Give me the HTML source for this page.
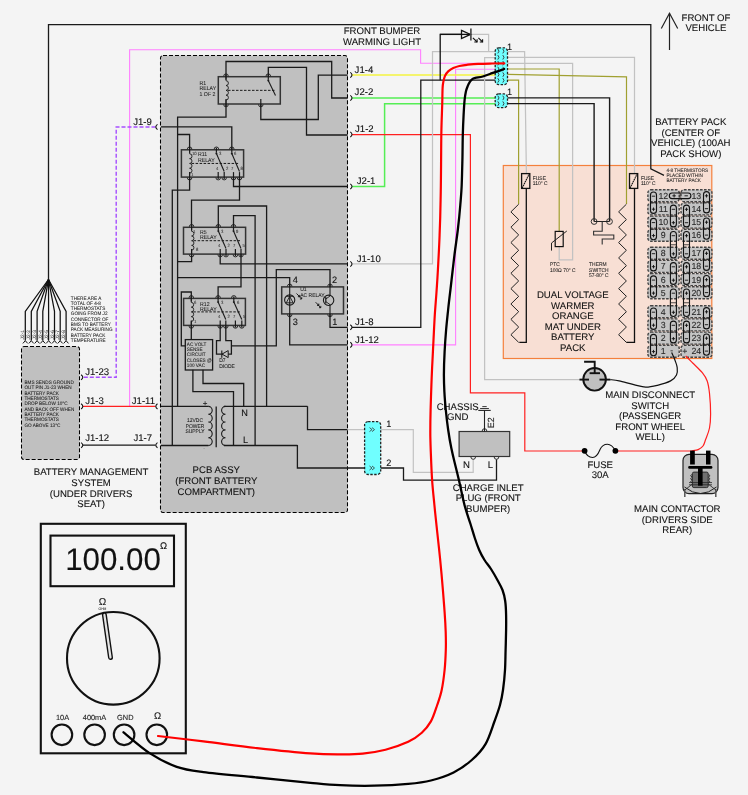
<!DOCTYPE html><html><head><meta charset="utf-8"><style>html,body{margin:0;padding:0;background:#f4f4f4;}svg{display:block;will-change:transform;}text{font-family:'Liberation Sans',sans-serif;text-rendering:geometricPrecision;}</style></head><body>
<svg width="748" height="795" viewBox="0 0 748 795">
<rect x="0" y="0" width="748" height="795" fill="#f4f4f4"/>
<rect x="503.3" y="165.5" width="208.5" height="193" fill="#f8dfd4" stroke="#f4803c" stroke-width="1.2"/>
<rect x="160.5" y="55.5" width="187" height="457" rx="2.5" fill="#c0c0c0" stroke="#000" stroke-width="1.05" stroke-dasharray="4,2"/>
<rect x="21.5" y="346.5" width="58" height="113" rx="2.5" fill="#c0c0c0" stroke="#000" stroke-width="1.05" stroke-dasharray="4,2"/>
<polyline points="48.5,279.5 48.5,24.6 650.8,24.6 650.8,168.8 664,175.3" fill="none" stroke="#1a1a1a" stroke-width="1.3" />
<polyline points="129.6,406.4 129.6,49.8 420.6,49.8 420.6,63.3 497,63.3" fill="none" stroke="#ff80ff" stroke-width="1.1" />
<polyline points="497,69.3 455.6,69.3 455.6,344.9 352,344.9" fill="none" stroke="#ff80ff" stroke-width="1.1" />
<polyline points="155.5,127 116.2,127 116.2,377.3 83,377.3" fill="none" stroke="#a64dff" stroke-width="1.4" stroke-dasharray="4,2"/>
<polyline points="352,75 497,75" fill="none" stroke="#f4f440" stroke-width="1.6" />
<polyline points="352,98 497,98" fill="none" stroke="#55ee55" stroke-width="1.5" />
<polyline points="352,186.5 384.6,186.5 384.6,103.7 497,103.7" fill="none" stroke="#55ee55" stroke-width="1.5" />
<polyline points="352,134.6 470.4,134.6 470.4,392.8 524.8,392.8 524.8,451 584,451" fill="none" stroke="#ff2020" stroke-width="1.2" />
<polyline points="616,451 692,451" fill="none" stroke="#ff2020" stroke-width="1.2" />
<polyline points="352,263.9 432.5,263.9 432.5,51.5 497,51.5" fill="none" stroke="#c2c2c2" stroke-width="1.25" />
<polyline points="470.2,34.4 488.6,34.4 488.6,51.5" fill="none" stroke="#c2c2c2" stroke-width="1.25" />
<polyline points="461.7,34.4 440.2,34.4 440.2,80.2" fill="none" stroke="#111" stroke-width="1.3" />
<polyline points="352,327.4 420.8,327.4 420.8,80.2 497,80.2" fill="none" stroke="#1a1a1a" stroke-width="1.3" />
<polyline points="497,57.5 484.6,57.5 484.6,379.6 580,379.6" fill="none" stroke="#c2c2c2" stroke-width="1.25" />
<polyline points="507,51.7 524.6,51.7 526.4,173.5" fill="none" stroke="#c2c2c2" stroke-width="1.25" />
<polyline points="507,57.4 634.5,57.4 634.5,173.5" fill="none" stroke="#c2c2c2" stroke-width="1.25" />
<polyline points="507,63.3 572.6,63.3 572.6,259.9 559.2,259.9 559.2,246.6" fill="none" stroke="#c2c2c2" stroke-width="1.25" />
<polyline points="507,69 559.2,69 559.2,231" fill="none" stroke="#a0a030" stroke-width="1.2" />
<polyline points="507,74.4 626.5,76.9 626.5,204" fill="none" stroke="#a0a030" stroke-width="1.2" />
<polyline points="507,80.2 518.6,80.2 518.6,204" fill="none" stroke="#a0a030" stroke-width="1.2" />
<polyline points="507,97.9 609.6,97.9 609.6,221.5" fill="none" stroke="#1a1a1a" stroke-width="1.4" />
<polyline points="507,103.6 594.1,103.6 594.1,221.5" fill="none" stroke="#1a1a1a" stroke-width="1.4" />
<polyline points="307.5,406.3 307.5,429.6 347.6,429.6" fill="none" stroke="#1a1a1a" stroke-width="1.3" />
<polyline points="347.6,429.6 413.3,429.6 413.3,472.3 473.2,472.3 473.2,459.6" fill="none" stroke="#c2c2c2" stroke-width="1.2" />
<polyline points="297.4,445.1 297.4,468 403.5,468 403.5,480.1 496.5,480.1 496.5,459.6" fill="none" stroke="#1a1a1a" stroke-width="1.3" />
<polyline points="83,406.4 155.5,406.4" fill="none" stroke="#ff2020" stroke-width="1.2" />
<polyline points="83,445.2 155.5,445.2" fill="none" stroke="#1a1a1a" stroke-width="1.3" />
<polyline points="226,76.7 226,61.5 331.7,61.5 331.7,98 347.6,98" fill="none" stroke="#1a1a1a" stroke-width="1.3" />
<polyline points="268.3,76.7 268.3,67.4 306.5,67.4 306.5,135 347.6,135" fill="none" stroke="#1a1a1a" stroke-width="1.3" />
<polyline points="260.8,104 260.8,119.5 318.3,119.5 318.3,75.2 347.6,75.2" fill="none" stroke="#1a1a1a" stroke-width="1.3" />
<polyline points="226,104 226,117.2 177.6,117.2 177.6,406.4" fill="none" stroke="#1a1a1a" stroke-width="1.3" />
<polyline points="161,126.8 231.8,126.8 231.8,149.8" fill="none" stroke="#1a1a1a" stroke-width="1.3" />
<polyline points="177.6,134.5 189.6,134.5 189.6,149.8" fill="none" stroke="#1a1a1a" stroke-width="1.3" />
<polyline points="189.6,177 189.6,190.2 172.3,190.2 172.3,445.5" fill="none" stroke="#1a1a1a" stroke-width="1.3" />
<polyline points="233.5,177 233.5,186.5 347.6,186.5" fill="none" stroke="#1a1a1a" stroke-width="1.3" />
<polyline points="239.5,177 239.5,200.2 191.5,200.2 191.5,227.3" fill="none" stroke="#1a1a1a" stroke-width="1.3" />
<polyline points="218.3,227.3 218.3,206 266.6,206 266.6,406.4" fill="none" stroke="#1a1a1a" stroke-width="1.3" />
<polyline points="233.5,227.3 233.5,215.6 255.1,215.6 255.1,445.5" fill="none" stroke="#1a1a1a" stroke-width="1.3" />
<polyline points="191.6,254.1 191.6,261.6 177.6,261.6" fill="none" stroke="#1a1a1a" stroke-width="1.3" />
<polyline points="220.2,254.1 220.2,263.8 347.6,263.8" fill="none" stroke="#1a1a1a" stroke-width="1.3" />
<polyline points="241,254.1 241,286.8 218.1,286.8 218.1,298.4" fill="none" stroke="#1a1a1a" stroke-width="1.3" />
<polyline points="177.6,277.6 289.7,277.6 289.7,287" fill="none" stroke="#1a1a1a" stroke-width="1.3" />
<polyline points="330.0,287 330.0,269.6 276.3,269.6 276.3,345.8 231.4,345.8" fill="none" stroke="#1a1a1a" stroke-width="1.3" />
<polyline points="330.0,313.7 330.0,327.3 347.6,327.3" fill="none" stroke="#1a1a1a" stroke-width="1.3" />
<polyline points="289.7,313.7 289.7,344.9 347.6,344.9" fill="none" stroke="#1a1a1a" stroke-width="1.3" />
<polyline points="191.3,298.4 191.3,292 181.3,292 181.3,345.8 185.3,345.8" fill="none" stroke="#1a1a1a" stroke-width="1.3" />
<polyline points="191.3,325.4 191.3,339.6" fill="none" stroke="#1a1a1a" stroke-width="1.3" />
<polyline points="220.2,325.4 220.2,340.6 216.5,340.6 216.5,354.1 231.4,354.1 231.4,340.6 225.8,340.6 225.8,325.4" fill="none" stroke="#1a1a1a" stroke-width="1.3" />
<polyline points="192.9,369.8 192.9,391.6 233.5,391.6 233.5,445.5" fill="none" stroke="#1a1a1a" stroke-width="1.3" />
<polyline points="203,369.8 203,383.5 243.7,383.5 243.7,406.4" fill="none" stroke="#1a1a1a" stroke-width="1.3" />
<polyline points="161,406.4 208.5,406.4" fill="none" stroke="#1a1a1a" stroke-width="1.3" />
<polyline points="224,406.4 307.5,406.4" fill="none" stroke="#1a1a1a" stroke-width="1.3" />
<polyline points="161,445.5 208.5,445.5" fill="none" stroke="#1a1a1a" stroke-width="1.3" />
<polyline points="224,445.5 297.4,445.5" fill="none" stroke="#1a1a1a" stroke-width="1.3" />
<polygon points="222,354.1 228.2,350.6 228.2,357.6" fill="#c0c0c0" stroke="#1a1a1a" stroke-width="1"/>
<polyline points="221.8,350.4 221.8,357.8" fill="none" stroke="#1a1a1a" stroke-width="1.1" />
<text transform="translate(219.3,362.4) scale(0.93,1)" x="0" y="0" font-size="5.3" text-anchor="start" fill="#1a1a1a" stroke="#1a1a1a" stroke-width="0.06" >D7</text>
<text transform="translate(219.3,368.2) scale(0.93,1)" x="0" y="0" font-size="5.3" text-anchor="start" fill="#1a1a1a" stroke="#1a1a1a" stroke-width="0.06" >DIODE</text>
<rect x="185.3" y="339.6" width="27.3" height="30.4" fill="none" stroke="#1a1a1a" stroke-width="1.3"/>
<text transform="translate(186.8,345.6) scale(0.93,1)" x="0" y="0" font-size="5.0" text-anchor="start" fill="#1a1a1a" stroke="#1a1a1a" stroke-width="0.06" >AC VOLT</text>
<text transform="translate(186.8,350.90000000000003) scale(0.93,1)" x="0" y="0" font-size="5.0" text-anchor="start" fill="#1a1a1a" stroke="#1a1a1a" stroke-width="0.06" >SENSE</text>
<text transform="translate(186.8,356.20000000000005) scale(0.93,1)" x="0" y="0" font-size="5.0" text-anchor="start" fill="#1a1a1a" stroke="#1a1a1a" stroke-width="0.06" >CIRCUIT</text>
<text transform="translate(186.8,361.5) scale(0.93,1)" x="0" y="0" font-size="5.0" text-anchor="start" fill="#1a1a1a" stroke="#1a1a1a" stroke-width="0.06" >CLOSES @</text>
<text transform="translate(186.8,366.8) scale(0.93,1)" x="0" y="0" font-size="5.0" text-anchor="start" fill="#1a1a1a" stroke="#1a1a1a" stroke-width="0.06" >100 VAC</text>
<path d="M208.3,406.4 A3.91,3.91 0 0 1 208.3,414.22 A3.91,3.91 0 0 1 208.3,422.04 A3.91,3.91 0 0 1 208.3,429.86 A3.91,3.91 0 0 1 208.3,437.68 A3.91,3.91 0 0 1 208.3,445.50" fill="none" stroke="#1a1a1a" stroke-width="1.1" />
<path d="M225.5,406.4 A3.91,3.91 0 0 0 225.5,414.22 A3.91,3.91 0 0 0 225.5,422.04 A3.91,3.91 0 0 0 225.5,429.86 A3.91,3.91 0 0 0 225.5,437.68 A3.91,3.91 0 0 0 225.5,445.50" fill="none" stroke="#1a1a1a" stroke-width="1.1" />
<polyline points="216.2,406.4 216.2,447.2" fill="none" stroke="#1a1a1a" stroke-width="1.3" />
<text x="202.8" y="405.6" font-size="8.0" text-anchor="start" fill="#222" stroke="#222" stroke-width="0.1" >+</text>
<text transform="translate(203.6,449.5) scale(0.93,1)" x="0" y="0" font-size="4" text-anchor="start" fill="#333" stroke="#333" stroke-width="0.06" >-</text>
<text transform="translate(195,422.4) scale(0.93,1)" x="0" y="0" font-size="5.3" text-anchor="middle" fill="#1a1a1a" stroke="#1a1a1a" stroke-width="0.06" >12VDC</text>
<text transform="translate(195,427.79999999999995) scale(0.93,1)" x="0" y="0" font-size="5.3" text-anchor="middle" fill="#1a1a1a" stroke="#1a1a1a" stroke-width="0.06" >POWER</text>
<text transform="translate(195,433.2) scale(0.93,1)" x="0" y="0" font-size="5.3" text-anchor="middle" fill="#1a1a1a" stroke="#1a1a1a" stroke-width="0.06" >SUPPLY</text>
<text x="241.2" y="415.7" font-size="9.2" text-anchor="start" fill="#111" stroke="#111" stroke-width="0.1" >N</text>
<text x="243.1" y="442.5" font-size="9.2" text-anchor="start" fill="#111" stroke="#111" stroke-width="0.1" >L</text>
<rect x="218.3" y="76.7" width="62.0" height="27.299999999999997" fill="none" stroke="#333" stroke-width="1.5"/>
<path d="M226,76.7 L226,80.7 A2.4124999999999996,2.4124999999999996 0 0 1 226,85.525 A2.4124999999999996,2.4124999999999996 0 0 1 226,90.35000000000001 A2.4124999999999996,2.4124999999999996 0 0 1 226,95.175 A2.4124999999999996,2.4124999999999996 0 0 1 226,100.0 L226,104" fill="none" stroke="#1a1a1a" stroke-width="0.9" />
<path d="M223.7,76.2 A2.3,2.3 0 0 1 228.3,76.2" fill="none" stroke="#1a1a1a" stroke-width="0.9" />
<polyline points="226,74.7 226,79.7" fill="none" stroke="#1a1a1a" stroke-width="1.2" />
<path d="M266.0,76.2 A2.3,2.3 0 0 1 270.6,76.2" fill="none" stroke="#1a1a1a" stroke-width="0.9" />
<polyline points="268.3,74.7 268.3,79.7" fill="none" stroke="#1a1a1a" stroke-width="1.2" />
<path d="M223.7,104.5 A2.3,2.3 0 0 0 228.3,104.5" fill="none" stroke="#1a1a1a" stroke-width="0.9" />
<polyline points="226,106 226,99" fill="none" stroke="#1a1a1a" stroke-width="1.2" />
<path d="M258.5,104.5 A2.3,2.3 0 0 0 263.1,104.5" fill="none" stroke="#1a1a1a" stroke-width="0.9" />
<polyline points="260.8,106 260.8,99" fill="none" stroke="#1a1a1a" stroke-width="1.2" />
<polyline points="228,90.35 274.5,90.35" fill="none" stroke="#1a1a1a" stroke-width="1.0" stroke-dasharray="2.5,1.5"/>
<polyline points="268.3,80.5 275.5,95.5" fill="none" stroke="#1a1a1a" stroke-width="1.1" />
<circle cx="268.3" cy="80.5" r="1" fill="#1a1a1a"/>
<text transform="translate(199.5,84.8) scale(0.93,1)" x="0" y="0" font-size="5.6" text-anchor="start" fill="#222" stroke="#222" stroke-width="0.06" >R1</text>
<text transform="translate(199.5,90.3) scale(0.93,1)" x="0" y="0" font-size="5.6" text-anchor="start" fill="#222" stroke="#222" stroke-width="0.06" >RELAY</text>
<text transform="translate(199.5,95.8) scale(0.93,1)" x="0" y="0" font-size="5.6" text-anchor="start" fill="#222" stroke="#222" stroke-width="0.06" >1 OF 2</text>
<rect x="181.4" y="149.8" width="62.19999999999999" height="27.299999999999983" fill="none" stroke="#333" stroke-width="1.5"/>
<path d="M189.6,149.8 L189.6,153.8 A2.412499999999998,2.412499999999998 0 0 1 189.6,158.625 A2.412499999999998,2.412499999999998 0 0 1 189.6,163.45 A2.412499999999998,2.412499999999998 0 0 1 189.6,168.27499999999998 A2.412499999999998,2.412499999999998 0 0 1 189.6,173.1 L189.6,177.1" fill="none" stroke="#1a1a1a" stroke-width="0.9" />
<path d="M187.29999999999998,149.3 A2.3,2.3 0 0 1 191.9,149.3" fill="none" stroke="#1a1a1a" stroke-width="0.9" />
<polyline points="189.6,147.8 189.6,152.8" fill="none" stroke="#1a1a1a" stroke-width="1.2" />
<path d="M214.1,149.3 A2.3,2.3 0 0 1 218.70000000000002,149.3" fill="none" stroke="#1a1a1a" stroke-width="0.9" />
<polyline points="216.4,147.8 216.4,152.8" fill="none" stroke="#1a1a1a" stroke-width="1.2" />
<path d="M229.5,149.3 A2.3,2.3 0 0 1 234.10000000000002,149.3" fill="none" stroke="#1a1a1a" stroke-width="0.9" />
<polyline points="231.8,147.8 231.8,152.8" fill="none" stroke="#1a1a1a" stroke-width="1.2" />
<path d="M187.29999999999998,177.6 A2.3,2.3 0 0 0 191.9,177.6" fill="none" stroke="#1a1a1a" stroke-width="0.9" />
<polyline points="189.6,179.1 189.6,172.1" fill="none" stroke="#1a1a1a" stroke-width="1.2" />
<path d="M215.89999999999998,177.6 A2.3,2.3 0 0 0 220.5,177.6" fill="none" stroke="#1a1a1a" stroke-width="0.9" />
<polyline points="218.2,179.1 218.2,172.1" fill="none" stroke="#1a1a1a" stroke-width="1.2" />
<path d="M221.89999999999998,177.6 A2.3,2.3 0 0 0 226.5,177.6" fill="none" stroke="#1a1a1a" stroke-width="0.9" />
<polyline points="224.2,179.1 224.2,172.1" fill="none" stroke="#1a1a1a" stroke-width="1.2" />
<path d="M231.2,177.6 A2.3,2.3 0 0 0 235.8,177.6" fill="none" stroke="#1a1a1a" stroke-width="0.9" />
<polyline points="233.5,179.1 233.5,172.1" fill="none" stroke="#1a1a1a" stroke-width="1.2" />
<path d="M237.2,177.6 A2.3,2.3 0 0 0 241.8,177.6" fill="none" stroke="#1a1a1a" stroke-width="0.9" />
<polyline points="239.5,179.1 239.5,172.1" fill="none" stroke="#1a1a1a" stroke-width="1.2" />
<polyline points="191.6,163.45 238.5,163.45" fill="none" stroke="#1a1a1a" stroke-width="1.0" stroke-dasharray="2.5,1.5"/>
<polyline points="216.4,153.5 224.2,171.5" fill="none" stroke="#1a1a1a" stroke-width="1.1" />
<circle cx="216.4" cy="153.5" r="1" fill="#1a1a1a"/>
<polyline points="231.8,153.5 239.5,171.5" fill="none" stroke="#1a1a1a" stroke-width="1.1" />
<circle cx="231.8" cy="153.5" r="1" fill="#1a1a1a"/>
<text transform="translate(198,156.3) scale(0.93,1)" x="0" y="0" font-size="5.6" text-anchor="start" fill="#222" stroke="#222" stroke-width="0.06" >R11</text>
<text transform="translate(198,161.8) scale(0.93,1)" x="0" y="0" font-size="5.6" text-anchor="start" fill="#222" stroke="#222" stroke-width="0.06" >RELAY</text>
<text transform="translate(192,155) scale(0.93,1)" x="0" y="0" font-size="4.5" text-anchor="start" fill="#333" stroke="#333" stroke-width="0.06" >10</text>
<text transform="translate(219,155) scale(0.93,1)" x="0" y="0" font-size="4.5" text-anchor="start" fill="#333" stroke="#333" stroke-width="0.06" >3</text>
<text transform="translate(234,155) scale(0.93,1)" x="0" y="0" font-size="4.5" text-anchor="start" fill="#333" stroke="#333" stroke-width="0.06" >6</text>
<text transform="translate(191,176) scale(0.93,1)" x="0" y="0" font-size="4.5" text-anchor="start" fill="#333" stroke="#333" stroke-width="0.06" >1</text>
<text transform="translate(216,170) scale(0.93,1)" x="0" y="0" font-size="4.5" text-anchor="start" fill="#333" stroke="#333" stroke-width="0.06" >4</text>
<text transform="translate(226,170) scale(0.93,1)" x="0" y="0" font-size="4.5" text-anchor="start" fill="#333" stroke="#333" stroke-width="0.06" >2</text>
<text transform="translate(231,170) scale(0.93,1)" x="0" y="0" font-size="4.5" text-anchor="start" fill="#333" stroke="#333" stroke-width="0.06" >7</text>
<text transform="translate(240.5,170) scale(0.93,1)" x="0" y="0" font-size="4.5" text-anchor="start" fill="#333" stroke="#333" stroke-width="0.06" >8</text>
<rect x="183.5" y="227.3" width="62.099999999999994" height="26.799999999999983" fill="none" stroke="#333" stroke-width="1.5"/>
<path d="M191.6,227.3 L191.6,231.3 A2.349999999999998,2.349999999999998 0 0 1 191.6,236.0 A2.349999999999998,2.349999999999998 0 0 1 191.6,240.7 A2.349999999999998,2.349999999999998 0 0 1 191.6,245.39999999999998 A2.349999999999998,2.349999999999998 0 0 1 191.6,250.1 L191.6,254.1" fill="none" stroke="#1a1a1a" stroke-width="0.9" />
<path d="M189.29999999999998,226.8 A2.3,2.3 0 0 1 193.9,226.8" fill="none" stroke="#1a1a1a" stroke-width="0.9" />
<polyline points="191.6,225.3 191.6,230.3" fill="none" stroke="#1a1a1a" stroke-width="1.2" />
<path d="M216.0,226.8 A2.3,2.3 0 0 1 220.60000000000002,226.8" fill="none" stroke="#1a1a1a" stroke-width="0.9" />
<polyline points="218.3,225.3 218.3,230.3" fill="none" stroke="#1a1a1a" stroke-width="1.2" />
<path d="M231.2,226.8 A2.3,2.3 0 0 1 235.8,226.8" fill="none" stroke="#1a1a1a" stroke-width="0.9" />
<polyline points="233.5,225.3 233.5,230.3" fill="none" stroke="#1a1a1a" stroke-width="1.2" />
<path d="M189.29999999999998,254.6 A2.3,2.3 0 0 0 193.9,254.6" fill="none" stroke="#1a1a1a" stroke-width="0.9" />
<polyline points="191.6,256.1 191.6,249.1" fill="none" stroke="#1a1a1a" stroke-width="1.2" />
<path d="M217.89999999999998,254.6 A2.3,2.3 0 0 0 222.5,254.6" fill="none" stroke="#1a1a1a" stroke-width="0.9" />
<polyline points="220.2,256.1 220.2,249.1" fill="none" stroke="#1a1a1a" stroke-width="1.2" />
<path d="M223.7,254.6 A2.3,2.3 0 0 0 228.3,254.6" fill="none" stroke="#1a1a1a" stroke-width="0.9" />
<polyline points="226,256.1 226,249.1" fill="none" stroke="#1a1a1a" stroke-width="1.2" />
<path d="M233.1,254.6 A2.3,2.3 0 0 0 237.70000000000002,254.6" fill="none" stroke="#1a1a1a" stroke-width="0.9" />
<polyline points="235.4,256.1 235.4,249.1" fill="none" stroke="#1a1a1a" stroke-width="1.2" />
<path d="M238.7,254.6 A2.3,2.3 0 0 0 243.3,254.6" fill="none" stroke="#1a1a1a" stroke-width="0.9" />
<polyline points="241,256.1 241,249.1" fill="none" stroke="#1a1a1a" stroke-width="1.2" />
<polyline points="193.6,240.7 240,240.7" fill="none" stroke="#1a1a1a" stroke-width="1.0" stroke-dasharray="2.5,1.5"/>
<polyline points="218.3,231 226,248.5" fill="none" stroke="#1a1a1a" stroke-width="1.1" />
<circle cx="218.3" cy="231" r="1" fill="#1a1a1a"/>
<polyline points="233.5,231 241,248.5" fill="none" stroke="#1a1a1a" stroke-width="1.1" />
<circle cx="233.5" cy="231" r="1" fill="#1a1a1a"/>
<text transform="translate(200,233.8) scale(0.93,1)" x="0" y="0" font-size="5.6" text-anchor="start" fill="#222" stroke="#222" stroke-width="0.06" >R5</text>
<text transform="translate(200,239.3) scale(0.93,1)" x="0" y="0" font-size="5.6" text-anchor="start" fill="#222" stroke="#222" stroke-width="0.06" >RELAY</text>
<text transform="translate(193,232.5) scale(0.93,1)" x="0" y="0" font-size="4.5" text-anchor="start" fill="#333" stroke="#333" stroke-width="0.06" >1</text>
<text transform="translate(221,232.5) scale(0.93,1)" x="0" y="0" font-size="4.5" text-anchor="start" fill="#333" stroke="#333" stroke-width="0.06" >3</text>
<text transform="translate(236,232.5) scale(0.93,1)" x="0" y="0" font-size="4.5" text-anchor="start" fill="#333" stroke="#333" stroke-width="0.06" >9</text>
<text transform="translate(196,251) scale(0.93,1)" x="0" y="0" font-size="4.5" text-anchor="start" fill="#333" stroke="#333" stroke-width="0.06" >8</text>
<text transform="translate(218,246.5) scale(0.93,1)" x="0" y="0" font-size="4.5" text-anchor="start" fill="#333" stroke="#333" stroke-width="0.06" >4</text>
<text transform="translate(227.5,246.5) scale(0.93,1)" x="0" y="0" font-size="4.5" text-anchor="start" fill="#333" stroke="#333" stroke-width="0.06" >2</text>
<text transform="translate(233,246.5) scale(0.93,1)" x="0" y="0" font-size="4.5" text-anchor="start" fill="#333" stroke="#333" stroke-width="0.06" >7</text>
<text transform="translate(242.5,246.5) scale(0.93,1)" x="0" y="0" font-size="4.5" text-anchor="start" fill="#333" stroke="#333" stroke-width="0.06" >5</text>
<rect x="183.6" y="298.4" width="61.80000000000001" height="27.0" fill="none" stroke="#333" stroke-width="1.5"/>
<path d="M191.3,298.4 L191.3,302.4 A2.375,2.375 0 0 1 191.3,307.15 A2.375,2.375 0 0 1 191.3,311.9 A2.375,2.375 0 0 1 191.3,316.65 A2.375,2.375 0 0 1 191.3,321.4 L191.3,325.4" fill="none" stroke="#1a1a1a" stroke-width="0.9" />
<path d="M189.0,297.9 A2.3,2.3 0 0 1 193.60000000000002,297.9" fill="none" stroke="#1a1a1a" stroke-width="0.9" />
<polyline points="191.3,296.4 191.3,301.4" fill="none" stroke="#1a1a1a" stroke-width="1.2" />
<path d="M215.79999999999998,297.9 A2.3,2.3 0 0 1 220.4,297.9" fill="none" stroke="#1a1a1a" stroke-width="0.9" />
<polyline points="218.1,296.4 218.1,301.4" fill="none" stroke="#1a1a1a" stroke-width="1.2" />
<path d="M231.5,297.9 A2.3,2.3 0 0 1 236.10000000000002,297.9" fill="none" stroke="#1a1a1a" stroke-width="0.9" />
<polyline points="233.8,296.4 233.8,301.4" fill="none" stroke="#1a1a1a" stroke-width="1.2" />
<path d="M189.0,325.9 A2.3,2.3 0 0 0 193.60000000000002,325.9" fill="none" stroke="#1a1a1a" stroke-width="0.9" />
<polyline points="191.3,327.4 191.3,320.4" fill="none" stroke="#1a1a1a" stroke-width="1.2" />
<path d="M217.89999999999998,325.9 A2.3,2.3 0 0 0 222.5,325.9" fill="none" stroke="#1a1a1a" stroke-width="0.9" />
<polyline points="220.2,327.4 220.2,320.4" fill="none" stroke="#1a1a1a" stroke-width="1.2" />
<path d="M223.5,325.9 A2.3,2.3 0 0 0 228.10000000000002,325.9" fill="none" stroke="#1a1a1a" stroke-width="0.9" />
<polyline points="225.8,327.4 225.8,320.4" fill="none" stroke="#1a1a1a" stroke-width="1.2" />
<path d="M233.1,325.9 A2.3,2.3 0 0 0 237.70000000000002,325.9" fill="none" stroke="#1a1a1a" stroke-width="0.9" />
<polyline points="235.4,327.4 235.4,320.4" fill="none" stroke="#1a1a1a" stroke-width="1.2" />
<path d="M239.5,325.9 A2.3,2.3 0 0 0 244.10000000000002,325.9" fill="none" stroke="#1a1a1a" stroke-width="0.9" />
<polyline points="241.8,327.4 241.8,320.4" fill="none" stroke="#1a1a1a" stroke-width="1.2" />
<polyline points="193.3,311.9 240.8,311.9" fill="none" stroke="#1a1a1a" stroke-width="1.0" stroke-dasharray="2.5,1.5"/>
<polyline points="218.1,302 225.8,319.5" fill="none" stroke="#1a1a1a" stroke-width="1.1" />
<circle cx="218.1" cy="302" r="1" fill="#1a1a1a"/>
<polyline points="233.8,302 241.8,319.5" fill="none" stroke="#1a1a1a" stroke-width="1.1" />
<circle cx="233.8" cy="302" r="1" fill="#1a1a1a"/>
<text transform="translate(200,305.5) scale(0.93,1)" x="0" y="0" font-size="5.6" text-anchor="start" fill="#222" stroke="#222" stroke-width="0.06" >R12</text>
<text transform="translate(200,311.0) scale(0.93,1)" x="0" y="0" font-size="5.6" text-anchor="start" fill="#222" stroke="#222" stroke-width="0.06" >RELAY</text>
<text transform="translate(194,304) scale(0.93,1)" x="0" y="0" font-size="4.5" text-anchor="start" fill="#333" stroke="#333" stroke-width="0.06" >6</text>
<text transform="translate(221,304) scale(0.93,1)" x="0" y="0" font-size="4.5" text-anchor="start" fill="#333" stroke="#333" stroke-width="0.06" >3</text>
<text transform="translate(237,304) scale(0.93,1)" x="0" y="0" font-size="4.5" text-anchor="start" fill="#333" stroke="#333" stroke-width="0.06" >6</text>
<text transform="translate(194,323) scale(0.93,1)" x="0" y="0" font-size="4.5" text-anchor="start" fill="#333" stroke="#333" stroke-width="0.06" >1</text>
<text transform="translate(218,317.5) scale(0.93,1)" x="0" y="0" font-size="4.5" text-anchor="start" fill="#333" stroke="#333" stroke-width="0.06" >4</text>
<text transform="translate(227.5,317.5) scale(0.93,1)" x="0" y="0" font-size="4.5" text-anchor="start" fill="#333" stroke="#333" stroke-width="0.06" >2</text>
<text transform="translate(233,317.5) scale(0.93,1)" x="0" y="0" font-size="4.5" text-anchor="start" fill="#333" stroke="#333" stroke-width="0.06" >7</text>
<text transform="translate(243,317.5) scale(0.93,1)" x="0" y="0" font-size="4.5" text-anchor="start" fill="#333" stroke="#333" stroke-width="0.06" >5</text>
<rect x="281.7" y="286.9" width="61.8" height="27" fill="none" stroke="#333" stroke-width="1.5"/>
<path d="M287.4,286.4 A2.3,2.3 0 0 1 292.0,286.4" fill="none" stroke="#1a1a1a" stroke-width="0.9" />
<path d="M287.4,314.4 A2.3,2.3 0 0 0 292.0,314.4" fill="none" stroke="#1a1a1a" stroke-width="0.9" />
<path d="M327.7,286.4 A2.3,2.3 0 0 1 332.3,286.4" fill="none" stroke="#1a1a1a" stroke-width="0.9" />
<path d="M327.7,314.4 A2.3,2.3 0 0 0 332.3,314.4" fill="none" stroke="#1a1a1a" stroke-width="0.9" />
<circle cx="289.7" cy="300" r="5.1" fill="none" stroke="#1a1a1a" stroke-width="1.1"/>
<polyline points="289.7,284.5 289.7,316.5" fill="none" stroke="#1a1a1a" stroke-width="1.1" />
<polygon points="289.7,296.3 286.3,302.8 293.1,302.8" fill="none" stroke="#1a1a1a" stroke-width="0.9"/>
<polyline points="286.2,296.3 293.2,296.3" fill="none" stroke="#1a1a1a" stroke-width="0.9" />
<circle cx="328.6" cy="300.3" r="5.2" fill="none" stroke="#1a1a1a" stroke-width="1.1"/>
<polyline points="330.0,284.5 330.0,296" fill="none" stroke="#1a1a1a" stroke-width="1.1" />
<polyline points="330.0,304.6 330.0,316.5" fill="none" stroke="#1a1a1a" stroke-width="1.1" />
<polyline points="325.8,297 325.8,303.6" fill="none" stroke="#1a1a1a" stroke-width="1.2" />
<polyline points="325.8,299 330.0,296" fill="none" stroke="#1a1a1a" stroke-width="0.9" />
<polyline points="325.8,301.6 330.0,304.6" fill="none" stroke="#1a1a1a" stroke-width="0.9" />
<polyline points="296.5,293.5 299.7,296.7" fill="none" stroke="#111" stroke-width="0.9" />
<polyline points="299.7,294.9 299.7,296.7 297.9,296.7" fill="none" stroke="#111" stroke-width="0.9" />
<polyline points="298.5,295.8 301.7,299.0" fill="none" stroke="#111" stroke-width="0.9" />
<polyline points="301.7,297.2 301.7,299.0 299.9,299.0" fill="none" stroke="#111" stroke-width="0.9" />
<polyline points="315.6,302.2 318.8,305.4" fill="none" stroke="#111" stroke-width="0.9" />
<polyline points="318.8,303.59999999999997 318.8,305.4 317.0,305.4" fill="none" stroke="#111" stroke-width="0.9" />
<polyline points="317.6,304.5 320.8,307.7" fill="none" stroke="#111" stroke-width="0.9" />
<polyline points="320.8,305.9 320.8,307.7 319.0,307.7" fill="none" stroke="#111" stroke-width="0.9" />
<text transform="translate(300.2,291.4) scale(0.93,1)" x="0" y="0" font-size="5.4" text-anchor="start" fill="#1a1a1a" stroke="#1a1a1a" stroke-width="0.06" >U1</text>
<text transform="translate(300.2,296.5) scale(0.93,1)" x="0" y="0" font-size="5.4" text-anchor="start" fill="#1a1a1a" stroke="#1a1a1a" stroke-width="0.06" >AC RELAY</text>
<text x="292.8" y="282.5" font-size="9.2" text-anchor="start" fill="#111" stroke="#111" stroke-width="0.1" >4</text>
<text x="332.0" y="282.5" font-size="9.2" text-anchor="start" fill="#111" stroke="#111" stroke-width="0.1" >2</text>
<text x="292.8" y="324.6" font-size="9.2" text-anchor="start" fill="#111" stroke="#111" stroke-width="0.1" >3</text>
<text x="332.3" y="324.6" font-size="9.2" text-anchor="start" fill="#111" stroke="#111" stroke-width="0.1" >1</text>
<path d="M350.3,72.4 Q353.7,75 350.3,77.6" fill="none" stroke="#111" stroke-width="1.1" />
<text x="354.6" y="72.8" font-size="9.6" text-anchor="start" fill="#111" stroke="#111" stroke-width="0.1" >J1-4</text>
<path d="M350.3,95.4 Q353.7,98 350.3,100.6" fill="none" stroke="#111" stroke-width="1.1" />
<text x="354.6" y="95.3" font-size="9.6" text-anchor="start" fill="#111" stroke="#111" stroke-width="0.1" >J2-2</text>
<path d="M350.3,131.9 Q353.7,134.5 350.3,137.1" fill="none" stroke="#111" stroke-width="1.1" />
<text x="355" y="132.4" font-size="9.6" text-anchor="start" fill="#111" stroke="#111" stroke-width="0.1" >J1-2</text>
<path d="M350.3,183.9 Q353.7,186.5 350.3,189.1" fill="none" stroke="#111" stroke-width="1.1" />
<text x="356.8" y="184.4" font-size="9.6" text-anchor="start" fill="#111" stroke="#111" stroke-width="0.1" >J2-1</text>
<path d="M350.3,261.4 Q353.7,264 350.3,266.6" fill="none" stroke="#111" stroke-width="1.1" />
<text x="356.8" y="261.6" font-size="9.6" text-anchor="start" fill="#111" stroke="#111" stroke-width="0.1" >J1-10</text>
<path d="M350.3,324.7 Q353.7,327.3 350.3,329.90000000000003" fill="none" stroke="#111" stroke-width="1.1" />
<text x="354.9" y="324.9" font-size="9.6" text-anchor="start" fill="#111" stroke="#111" stroke-width="0.1" >J1-8</text>
<path d="M350.3,342.29999999999995 Q353.7,344.9 350.3,347.5" fill="none" stroke="#111" stroke-width="1.1" />
<text x="354.9" y="342.5" font-size="9.6" text-anchor="start" fill="#111" stroke="#111" stroke-width="0.1" >J1-12</text>
<path d="M157.5,124.4 Q154.10000000000002,127 157.5,129.6" fill="none" stroke="#111" stroke-width="1.1" />
<text x="133.2" y="124.6" font-size="9.6" text-anchor="start" fill="#111" stroke="#111" stroke-width="0.1" >J1-9</text>
<path d="M81.1,374.7 Q84.5,377.3 81.1,379.90000000000003" fill="none" stroke="#111" stroke-width="1.1" />
<text x="85.2" y="375" font-size="9.6" text-anchor="start" fill="#111" stroke="#111" stroke-width="0.1" >J1-23</text>
<path d="M81.1,403.79999999999995 Q84.5,406.4 81.1,409.0" fill="none" stroke="#111" stroke-width="1.1" />
<text x="85.2" y="404.3" font-size="9.6" text-anchor="start" fill="#111" stroke="#111" stroke-width="0.1" >J1-3</text>
<path d="M81.1,442.59999999999997 Q84.5,445.2 81.1,447.8" fill="none" stroke="#111" stroke-width="1.1" />
<text x="85.2" y="441.1" font-size="9.6" text-anchor="start" fill="#111" stroke="#111" stroke-width="0.1" >J1-12</text>
<path d="M157.5,403.79999999999995 Q154.10000000000002,406.4 157.5,409.0" fill="none" stroke="#111" stroke-width="1.1" />
<text x="131.8" y="404.3" font-size="9.6" text-anchor="start" fill="#111" stroke="#111" stroke-width="0.1" >J1-11</text>
<path d="M157.5,442.59999999999997 Q154.10000000000002,445.2 157.5,447.8" fill="none" stroke="#111" stroke-width="1.1" />
<text x="133.4" y="441.1" font-size="9.6" text-anchor="start" fill="#111" stroke="#111" stroke-width="0.1" >J1-7</text>
<rect x="495.2" y="47.8" width="12.300000000000011" height="36.8" rx="3.5" fill="#70ffff" stroke="#222" stroke-width="1.3" stroke-dasharray="2.4,1.5"/>
<rect x="495.2" y="93.9" width="12.300000000000011" height="13.699999999999989" rx="3.5" fill="#70ffff" stroke="#222" stroke-width="1.3" stroke-dasharray="2.4,1.5"/>
<path d="M497.8,49.0 q2.4,2.2 0,4.4 M502.8,49.0 q2.4,2.2 0,4.4" fill="none" stroke="#333" stroke-width="0.9" />
<path d="M497.8,55.099999999999994 q2.4,2.2 0,4.4 M502.8,55.099999999999994 q2.4,2.2 0,4.4" fill="none" stroke="#333" stroke-width="0.9" />
<path d="M497.8,61.0 q2.4,2.2 0,4.4 M502.8,61.0 q2.4,2.2 0,4.4" fill="none" stroke="#333" stroke-width="0.9" />
<path d="M497.8,66.8 q2.4,2.2 0,4.4 M502.8,66.8 q2.4,2.2 0,4.4" fill="none" stroke="#333" stroke-width="0.9" />
<path d="M497.8,72.39999999999999 q2.4,2.2 0,4.4 M502.8,72.39999999999999 q2.4,2.2 0,4.4" fill="none" stroke="#333" stroke-width="0.9" />
<path d="M497.8,78.2 q2.4,2.2 0,4.4 M502.8,78.2 q2.4,2.2 0,4.4" fill="none" stroke="#333" stroke-width="0.9" />
<path d="M497.8,95.7 q2.4,2.2 0,4.4 M502.8,95.7 q2.4,2.2 0,4.4" fill="none" stroke="#333" stroke-width="0.9" />
<path d="M497.8,101.39999999999999 q2.4,2.2 0,4.4 M502.8,101.39999999999999 q2.4,2.2 0,4.4" fill="none" stroke="#333" stroke-width="0.9" />
<text x="509.5" y="49.5" font-size="9.2" text-anchor="middle" fill="#111" stroke="#111" stroke-width="0.1" >1</text>
<text x="509.5" y="94.8" font-size="9.2" text-anchor="middle" fill="#111" stroke="#111" stroke-width="0.1" >1</text>
<rect x="364.6" y="421.6" width="16.099999999999966" height="52.89999999999998" rx="3.5" fill="#70ffff" stroke="#222" stroke-width="1.3" stroke-dasharray="2.4,1.5"/>
<polyline points="369.5,427.6 372,429.6 369.5,431.6" fill="none" stroke="#333" stroke-width="0.8" />
<polyline points="372,427.6 374.5,429.6 372,431.6" fill="none" stroke="#333" stroke-width="0.8" />
<polyline points="369.5,466 372,468 369.5,470" fill="none" stroke="#333" stroke-width="0.8" />
<polyline points="372,466 374.5,468 372,470" fill="none" stroke="#333" stroke-width="0.8" />
<text x="386.2" y="427.3" font-size="9.2" text-anchor="start" fill="#111" stroke="#111" stroke-width="0.1" >1</text>
<text x="386.2" y="465.8" font-size="9.2" text-anchor="start" fill="#111" stroke="#111" stroke-width="0.1" >2</text>
<polygon points="461.5,30.4 470.4,34.4 461.5,38.5" fill="none" stroke="#111" stroke-width="1.3"/>
<polyline points="440,34.4 470.4,34.4" fill="none" stroke="#111" stroke-width="1.3" />
<polyline points="470.9,28.4 470.9,40.4" fill="none" stroke="#444" stroke-width="1.6" />
<polyline points="472.9,37.8 477.09999999999997,42" fill="none" stroke="#111" stroke-width="1.1" />
<polyline points="477.09999999999997,39.2 477.09999999999997,42 474.29999999999995,42" fill="none" stroke="#111" stroke-width="1.1" />
<polyline points="478.4,37.8 482.59999999999997,42" fill="none" stroke="#111" stroke-width="1.1" />
<polyline points="482.59999999999997,39.2 482.59999999999997,42 479.79999999999995,42" fill="none" stroke="#111" stroke-width="1.1" />
<text x="382" y="33.6" font-size="9.6" text-anchor="middle" fill="#111" stroke="#111" stroke-width="0.1" >FRONT BUMPER</text>
<text x="382" y="44.5" font-size="9.6" text-anchor="middle" fill="#111" stroke="#111" stroke-width="0.1" >WARMING LIGHT</text>
<polyline points="669.5,13.3 669.5,50" fill="none" stroke="#222" stroke-width="1.2" />
<polyline points="661.3,28.5 669.5,13.3 677.7,28.5" fill="none" stroke="#222" stroke-width="1.2" />
<text x="706" y="20.6" font-size="9.6" text-anchor="middle" fill="#111" stroke="#111" stroke-width="0.1" >FRONT OF</text>
<text x="706" y="31.200000000000003" font-size="9.6" text-anchor="middle" fill="#111" stroke="#111" stroke-width="0.1" >VEHICLE</text>
<text x="690.8" y="125.3" font-size="9.6" text-anchor="middle" fill="#111" stroke="#111" stroke-width="0.1" >BATTERY PACK</text>
<text x="690.8" y="135.8" font-size="9.6" text-anchor="middle" fill="#111" stroke="#111" stroke-width="0.1" >(CENTER OF</text>
<text x="690.8" y="146.3" font-size="9.6" text-anchor="middle" fill="#111" stroke="#111" stroke-width="0.1" >VEHICLE) (100AH</text>
<text x="690.8" y="156.8" font-size="9.6" text-anchor="middle" fill="#111" stroke="#111" stroke-width="0.1" >PACK SHOW)</text>
<text x="0" y="0" font-size="4.8" fill="#222" transform="translate(24.3,339.4) rotate(-90)">J2-1</text>
<text x="0" y="0" font-size="4.8" fill="#222" transform="translate(30.3,339.4) rotate(-90)">J2-2</text>
<text x="0" y="0" font-size="4.8" fill="#222" transform="translate(36.1,339.4) rotate(-90)">J2-3</text>
<text x="0" y="0" font-size="4.8" fill="#222" transform="translate(41.8,339.4) rotate(-90)">J2-4</text>
<text x="0" y="0" font-size="4.8" fill="#222" transform="translate(47.6,339.4) rotate(-90)">J2-5</text>
<text x="0" y="0" font-size="4.8" fill="#222" transform="translate(53.5,339.4) rotate(-90)">J2-6</text>
<text x="0" y="0" font-size="4.8" fill="#222" transform="translate(59.2,339.4) rotate(-90)">J2-7</text>
<text x="0" y="0" font-size="4.8" fill="#222" transform="translate(65.1,339.4) rotate(-90)">J2-8</text>
<polyline points="48.5,279.5 25.3,311.4 25.3,340.6" fill="none" stroke="#111" stroke-width="1.25" />
<polyline points="22.900000000000002,343.4 25.3,340.7 27.7,343.4" fill="none" stroke="#111" stroke-width="1.0" />
<polyline points="48.5,279.5 31.3,311.4 31.3,340.6" fill="none" stroke="#111" stroke-width="1.25" />
<polyline points="28.900000000000002,343.4 31.3,340.7 33.7,343.4" fill="none" stroke="#111" stroke-width="1.0" />
<polyline points="48.5,279.5 37.1,311.4 37.1,340.6" fill="none" stroke="#111" stroke-width="1.25" />
<polyline points="34.7,343.4 37.1,340.7 39.5,343.4" fill="none" stroke="#111" stroke-width="1.0" />
<polyline points="48.5,279.5 42.8,311.4 42.8,340.6" fill="none" stroke="#111" stroke-width="1.25" />
<polyline points="40.4,343.4 42.8,340.7 45.199999999999996,343.4" fill="none" stroke="#111" stroke-width="1.0" />
<polyline points="48.5,279.5 48.6,311.4 48.6,340.6" fill="none" stroke="#111" stroke-width="1.25" />
<polyline points="46.2,343.4 48.6,340.7 51.0,343.4" fill="none" stroke="#111" stroke-width="1.0" />
<polyline points="48.5,279.5 54.5,311.4 54.5,340.6" fill="none" stroke="#111" stroke-width="1.25" />
<polyline points="52.1,343.4 54.5,340.7 56.9,343.4" fill="none" stroke="#111" stroke-width="1.0" />
<polyline points="48.5,279.5 60.2,311.4 60.2,340.6" fill="none" stroke="#111" stroke-width="1.25" />
<polyline points="57.800000000000004,343.4 60.2,340.7 62.6,343.4" fill="none" stroke="#111" stroke-width="1.0" />
<polyline points="48.5,279.5 66.1,311.4 66.1,340.6" fill="none" stroke="#111" stroke-width="1.25" />
<polyline points="63.699999999999996,343.4 66.1,340.7 68.5,343.4" fill="none" stroke="#111" stroke-width="1.0" />
<text transform="translate(70.8,299.6) scale(0.93,1)" x="0" y="0" font-size="5.0" text-anchor="start" fill="#1a1a1a" stroke="#1a1a1a" stroke-width="0.06" >THERE ARE A</text>
<text transform="translate(70.8,304.89000000000004) scale(0.93,1)" x="0" y="0" font-size="5.0" text-anchor="start" fill="#1a1a1a" stroke="#1a1a1a" stroke-width="0.06" >TOTAL OF 4-8</text>
<text transform="translate(70.8,310.18) scale(0.93,1)" x="0" y="0" font-size="5.0" text-anchor="start" fill="#1a1a1a" stroke="#1a1a1a" stroke-width="0.06" >THERMOSTATS</text>
<text transform="translate(70.8,315.47) scale(0.93,1)" x="0" y="0" font-size="5.0" text-anchor="start" fill="#1a1a1a" stroke="#1a1a1a" stroke-width="0.06" >GOING FROM J2</text>
<text transform="translate(70.8,320.76000000000005) scale(0.93,1)" x="0" y="0" font-size="5.0" text-anchor="start" fill="#1a1a1a" stroke="#1a1a1a" stroke-width="0.06" >CONNECTOR OF</text>
<text transform="translate(70.8,326.05) scale(0.93,1)" x="0" y="0" font-size="5.0" text-anchor="start" fill="#1a1a1a" stroke="#1a1a1a" stroke-width="0.06" >BMS TO BATTERY</text>
<text transform="translate(70.8,331.34000000000003) scale(0.93,1)" x="0" y="0" font-size="5.0" text-anchor="start" fill="#1a1a1a" stroke="#1a1a1a" stroke-width="0.06" >PACK MEASURING</text>
<text transform="translate(70.8,336.63) scale(0.93,1)" x="0" y="0" font-size="5.0" text-anchor="start" fill="#1a1a1a" stroke="#1a1a1a" stroke-width="0.06" >BATTERY PACK</text>
<text transform="translate(70.8,341.92) scale(0.93,1)" x="0" y="0" font-size="5.0" text-anchor="start" fill="#1a1a1a" stroke="#1a1a1a" stroke-width="0.06" >TEMPERATURE</text>
<text transform="translate(24.4,384.0) scale(0.93,1)" x="0" y="0" font-size="5.0" text-anchor="start" fill="#1a1a1a" stroke="#1a1a1a" stroke-width="0.06" >BMS SENDS GROUND</text>
<text transform="translate(24.4,389.33) scale(0.93,1)" x="0" y="0" font-size="5.0" text-anchor="start" fill="#1a1a1a" stroke="#1a1a1a" stroke-width="0.06" >OUT PIN J1-23 WHEN</text>
<text transform="translate(24.4,394.66) scale(0.93,1)" x="0" y="0" font-size="5.0" text-anchor="start" fill="#1a1a1a" stroke="#1a1a1a" stroke-width="0.06" >BATTERY PACK</text>
<text transform="translate(24.4,399.99) scale(0.93,1)" x="0" y="0" font-size="5.0" text-anchor="start" fill="#1a1a1a" stroke="#1a1a1a" stroke-width="0.06" >THERMOSTATS</text>
<text transform="translate(24.4,405.32) scale(0.93,1)" x="0" y="0" font-size="5.0" text-anchor="start" fill="#1a1a1a" stroke="#1a1a1a" stroke-width="0.06" >DROP BELOW 10°C</text>
<text transform="translate(24.4,410.65) scale(0.93,1)" x="0" y="0" font-size="5.0" text-anchor="start" fill="#1a1a1a" stroke="#1a1a1a" stroke-width="0.06" >AND BACK OFF WHEN</text>
<text transform="translate(24.4,415.98) scale(0.93,1)" x="0" y="0" font-size="5.0" text-anchor="start" fill="#1a1a1a" stroke="#1a1a1a" stroke-width="0.06" >BATTERY PACK</text>
<text transform="translate(24.4,421.31) scale(0.93,1)" x="0" y="0" font-size="5.0" text-anchor="start" fill="#1a1a1a" stroke="#1a1a1a" stroke-width="0.06" >THERMOSTATS</text>
<text transform="translate(24.4,426.64) scale(0.93,1)" x="0" y="0" font-size="5.0" text-anchor="start" fill="#1a1a1a" stroke="#1a1a1a" stroke-width="0.06" >GO ABOVE 13°C</text>
<text x="91.1" y="475.2" font-size="9.6" text-anchor="middle" fill="#111" stroke="#111" stroke-width="0.1" >BATTERY MANAGEMENT</text>
<text x="91.1" y="485.95" font-size="9.6" text-anchor="middle" fill="#111" stroke="#111" stroke-width="0.1" >SYSTEM</text>
<text x="91.1" y="496.7" font-size="9.6" text-anchor="middle" fill="#111" stroke="#111" stroke-width="0.1" >(UNDER DRIVERS</text>
<text x="91.1" y="507.45" font-size="9.6" text-anchor="middle" fill="#111" stroke="#111" stroke-width="0.1" >SEAT)</text>
<text x="216.3" y="473.4" font-size="9.6" text-anchor="middle" fill="#111" stroke="#111" stroke-width="0.1" >PCB ASSY</text>
<text x="216.3" y="484.0" font-size="9.6" text-anchor="middle" fill="#111" stroke="#111" stroke-width="0.1" >(FRONT BATTERY</text>
<text x="216.3" y="494.59999999999997" font-size="9.6" text-anchor="middle" fill="#111" stroke="#111" stroke-width="0.1" >COMPARTMENT)</text>
<rect x="521.6" y="173.6" width="8.2" height="14.8" fill="none" stroke="#111" stroke-width="1.3"/>
<polyline points="522.2,188 529.2,174" fill="none" stroke="#111" stroke-width="1.1" stroke-dasharray="1.6,0.5"/>
<text transform="translate(532.8,180.1) scale(0.93,1)" x="0" y="0" font-size="5.3" text-anchor="start" fill="#1a1a1a" stroke="#1a1a1a" stroke-width="0.06" >FUSE</text>
<text transform="translate(532.8,185.29999999999998) scale(0.93,1)" x="0" y="0" font-size="5.3" text-anchor="start" fill="#1a1a1a" stroke="#1a1a1a" stroke-width="0.06" >110° C</text>
<rect x="629.5" y="173.6" width="8.2" height="14.8" fill="none" stroke="#111" stroke-width="1.3"/>
<polyline points="630.1,188 637.1,174" fill="none" stroke="#111" stroke-width="1.1" stroke-dasharray="1.6,0.5"/>
<text transform="translate(640.9,180.1) scale(0.93,1)" x="0" y="0" font-size="5.3" text-anchor="start" fill="#1a1a1a" stroke="#1a1a1a" stroke-width="0.06" >FUSE</text>
<text transform="translate(640.9,185.29999999999998) scale(0.93,1)" x="0" y="0" font-size="5.3" text-anchor="start" fill="#1a1a1a" stroke="#1a1a1a" stroke-width="0.06" >110° C</text>
<polyline points="526.3,188.5 526.3,342.4 519.3,342.4" fill="none" stroke="#111" stroke-width="1.3" />
<polyline points="634.5,188.5 634.5,342.4 626.3,342.4" fill="none" stroke="#111" stroke-width="1.3" />
<polyline points="518.7,204.2 510.9,211.87777777777777 518.7,219.55555555555554 510.9,227.23333333333332 518.7,234.9111111111111 510.9,242.58888888888887 518.7,250.26666666666665 510.9,257.94444444444446 518.7,265.6222222222222 510.9,273.29999999999995 518.7,280.97777777777776 510.9,288.65555555555557 518.7,296.3333333333333 510.9,304.01111111111106 518.7,311.68888888888887 510.9,319.3666666666667 518.7,327.0444444444444 510.9,334.7222222222222 518.7,342.4" fill="none" stroke="#222" stroke-width="1.0" />
<polyline points="626.4,204.2 618.6,211.87777777777777 626.4,219.55555555555554 618.6,227.23333333333332 626.4,234.9111111111111 618.6,242.58888888888887 626.4,250.26666666666665 618.6,257.94444444444446 626.4,265.6222222222222 618.6,273.29999999999995 626.4,280.97777777777776 618.6,288.65555555555557 626.4,296.3333333333333 618.6,304.01111111111106 626.4,311.68888888888887 618.6,319.3666666666667 626.4,327.0444444444444 618.6,334.7222222222222 626.4,342.4" fill="none" stroke="#222" stroke-width="1.0" />
<rect x="555.2" y="231.4" width="8" height="15.2" fill="none" stroke="#111" stroke-width="1.2"/>
<polyline points="551.5,250.6 551.5,243 566.8,231" fill="none" stroke="#222" stroke-width="1.0" />
<text transform="translate(549.9,266.4) scale(0.93,1)" x="0" y="0" font-size="5.3" text-anchor="start" fill="#1a1a1a" stroke="#1a1a1a" stroke-width="0.06" >PTC</text>
<text transform="translate(549.9,271.79999999999995) scale(0.93,1)" x="0" y="0" font-size="5.3" text-anchor="start" fill="#1a1a1a" stroke="#1a1a1a" stroke-width="0.06" >100Ω 70° C</text>
<circle cx="594.1" cy="221.5" r="2.9" fill="none" stroke="#333" stroke-width="1"/>
<circle cx="609.5" cy="221.5" r="2.9" fill="none" stroke="#333" stroke-width="1"/>
<polyline points="594.1,221.5 609.5,221.5" fill="none" stroke="#222" stroke-width="1.0" />
<polyline points="602.2,221.5 602.2,231.2 593.6,231.2 593.6,235 613.8,235 613.8,239 602.2,239 602.2,244.6" fill="none" stroke="#333" stroke-width="1.1" />
<polyline points="604,231.2 604,233.3 612,233.3" fill="none" stroke="#333" stroke-width="0.0" />
<text transform="translate(589.1,266.4) scale(0.93,1)" x="0" y="0" font-size="5.3" text-anchor="start" fill="#1a1a1a" stroke="#1a1a1a" stroke-width="0.06" >THERM</text>
<text transform="translate(589.1,271.79999999999995) scale(0.93,1)" x="0" y="0" font-size="5.3" text-anchor="start" fill="#1a1a1a" stroke="#1a1a1a" stroke-width="0.06" >SWITCH</text>
<text transform="translate(589.1,277.2) scale(0.93,1)" x="0" y="0" font-size="5.3" text-anchor="start" fill="#1a1a1a" stroke="#1a1a1a" stroke-width="0.06" >57-80° C</text>
<text x="572.8" y="298.0" font-size="9.6" text-anchor="middle" fill="#111" stroke="#111" stroke-width="0.1" >DUAL VOLTAGE</text>
<text x="572.8" y="308.62" font-size="9.6" text-anchor="middle" fill="#111" stroke="#111" stroke-width="0.1" >WARMER</text>
<text x="572.8" y="319.24" font-size="9.6" text-anchor="middle" fill="#111" stroke="#111" stroke-width="0.1" >ORANGE</text>
<text x="572.8" y="329.86" font-size="9.6" text-anchor="middle" fill="#111" stroke="#111" stroke-width="0.1" >MAT UNDER</text>
<text x="572.8" y="340.48" font-size="9.6" text-anchor="middle" fill="#111" stroke="#111" stroke-width="0.1" >BATTERY</text>
<text x="572.8" y="351.1" font-size="9.6" text-anchor="middle" fill="#111" stroke="#111" stroke-width="0.1" >PACK</text>
<text transform="translate(666.4,172.2) scale(0.93,1)" x="0" y="0" font-size="5.0" text-anchor="start" fill="#1a1a1a" stroke="#1a1a1a" stroke-width="0.06" >4-8 THERMISTORS</text>
<text transform="translate(666.4,177.29999999999998) scale(0.93,1)" x="0" y="0" font-size="5.0" text-anchor="start" fill="#1a1a1a" stroke="#1a1a1a" stroke-width="0.06" >PLACED WITHIN</text>
<text transform="translate(666.4,182.39999999999998) scale(0.93,1)" x="0" y="0" font-size="5.0" text-anchor="start" fill="#1a1a1a" stroke="#1a1a1a" stroke-width="0.06" >BATTERY PACK</text>
<rect x="647.9" y="189.7" width="31.300000000000068" height="12" rx="3" fill="#c4c4c4" stroke="#444" stroke-width="1.4" stroke-dasharray="2.6,1.4"/>
<rect x="681" y="189.7" width="30.899999999999977" height="12" rx="3" fill="#c4c4c4" stroke="#444" stroke-width="1.4" stroke-dasharray="2.6,1.4"/>
<rect x="647.9" y="202.89999999999998" width="31.300000000000068" height="12" rx="3" fill="#c4c4c4" stroke="#444" stroke-width="1.4" stroke-dasharray="2.6,1.4"/>
<rect x="681" y="202.89999999999998" width="30.899999999999977" height="12" rx="3" fill="#c4c4c4" stroke="#444" stroke-width="1.4" stroke-dasharray="2.6,1.4"/>
<rect x="647.9" y="216.1" width="31.300000000000068" height="12" rx="3" fill="#c4c4c4" stroke="#444" stroke-width="1.4" stroke-dasharray="2.6,1.4"/>
<rect x="681" y="216.1" width="30.899999999999977" height="12" rx="3" fill="#c4c4c4" stroke="#444" stroke-width="1.4" stroke-dasharray="2.6,1.4"/>
<rect x="647.9" y="229.29999999999998" width="31.300000000000068" height="12" rx="3" fill="#c4c4c4" stroke="#444" stroke-width="1.4" stroke-dasharray="2.6,1.4"/>
<rect x="681" y="229.29999999999998" width="30.899999999999977" height="12" rx="3" fill="#c4c4c4" stroke="#444" stroke-width="1.4" stroke-dasharray="2.6,1.4"/>
<rect x="647.9" y="247.2" width="31.300000000000068" height="12" rx="3" fill="#c4c4c4" stroke="#444" stroke-width="1.4" stroke-dasharray="2.6,1.4"/>
<rect x="681" y="247.2" width="30.899999999999977" height="12" rx="3" fill="#c4c4c4" stroke="#444" stroke-width="1.4" stroke-dasharray="2.6,1.4"/>
<rect x="647.9" y="260.4" width="31.300000000000068" height="12" rx="3" fill="#c4c4c4" stroke="#444" stroke-width="1.4" stroke-dasharray="2.6,1.4"/>
<rect x="681" y="260.4" width="30.899999999999977" height="12" rx="3" fill="#c4c4c4" stroke="#444" stroke-width="1.4" stroke-dasharray="2.6,1.4"/>
<rect x="647.9" y="273.59999999999997" width="31.300000000000068" height="12" rx="3" fill="#c4c4c4" stroke="#444" stroke-width="1.4" stroke-dasharray="2.6,1.4"/>
<rect x="681" y="273.59999999999997" width="30.899999999999977" height="12" rx="3" fill="#c4c4c4" stroke="#444" stroke-width="1.4" stroke-dasharray="2.6,1.4"/>
<rect x="647.9" y="286.79999999999995" width="31.300000000000068" height="12" rx="3" fill="#c4c4c4" stroke="#444" stroke-width="1.4" stroke-dasharray="2.6,1.4"/>
<rect x="681" y="286.79999999999995" width="30.899999999999977" height="12" rx="3" fill="#c4c4c4" stroke="#444" stroke-width="1.4" stroke-dasharray="2.6,1.4"/>
<rect x="647.9" y="305.7" width="31.300000000000068" height="12" rx="3" fill="#c4c4c4" stroke="#444" stroke-width="1.4" stroke-dasharray="2.6,1.4"/>
<rect x="681" y="305.7" width="30.899999999999977" height="12" rx="3" fill="#c4c4c4" stroke="#444" stroke-width="1.4" stroke-dasharray="2.6,1.4"/>
<rect x="647.9" y="318.9" width="31.300000000000068" height="12" rx="3" fill="#c4c4c4" stroke="#444" stroke-width="1.4" stroke-dasharray="2.6,1.4"/>
<rect x="681" y="318.9" width="30.899999999999977" height="12" rx="3" fill="#c4c4c4" stroke="#444" stroke-width="1.4" stroke-dasharray="2.6,1.4"/>
<rect x="647.9" y="332.09999999999997" width="31.300000000000068" height="12" rx="3" fill="#c4c4c4" stroke="#444" stroke-width="1.4" stroke-dasharray="2.6,1.4"/>
<rect x="681" y="332.09999999999997" width="30.899999999999977" height="12" rx="3" fill="#c4c4c4" stroke="#444" stroke-width="1.4" stroke-dasharray="2.6,1.4"/>
<rect x="647.9" y="345.29999999999995" width="31.300000000000068" height="12" rx="3" fill="#c4c4c4" stroke="#444" stroke-width="1.4" stroke-dasharray="2.6,1.4"/>
<rect x="681" y="345.29999999999995" width="30.899999999999977" height="12" rx="3" fill="#c4c4c4" stroke="#444" stroke-width="1.4" stroke-dasharray="2.6,1.4"/>
<rect x="650.5" y="192.0" width="6.0" height="21.399999999999977" rx="3.0" fill="none" stroke="#111" stroke-width="1.1"/>
<polyline points="650.5,202.7 656.5,202.7" fill="none" stroke="#222" stroke-width="0.8" />
<polyline points="651.8,196.2 655.2,196.2" fill="none" stroke="#111" stroke-width="0.9" />
<polyline points="651.8,209.2 655.2,209.2" fill="none" stroke="#111" stroke-width="0.9" />
<polyline points="653.5,207.5 653.5,210.89999999999998" fill="none" stroke="#111" stroke-width="0.9" />
<rect x="650.5" y="218.4" width="6.0" height="21.399999999999977" rx="3.0" fill="none" stroke="#111" stroke-width="1.1"/>
<polyline points="650.5,229.1 656.5,229.1" fill="none" stroke="#222" stroke-width="0.8" />
<polyline points="651.8,222.6 655.2,222.6" fill="none" stroke="#111" stroke-width="0.9" />
<polyline points="651.8,235.6 655.2,235.6" fill="none" stroke="#111" stroke-width="0.9" />
<polyline points="653.5,233.9 653.5,237.29999999999998" fill="none" stroke="#111" stroke-width="0.9" />
<rect x="650.5" y="249.5" width="6.0" height="21.399999999999977" rx="3.0" fill="none" stroke="#111" stroke-width="1.1"/>
<polyline points="650.5,260.2 656.5,260.2" fill="none" stroke="#222" stroke-width="0.8" />
<polyline points="651.8,253.7 655.2,253.7" fill="none" stroke="#111" stroke-width="0.9" />
<polyline points="651.8,266.7 655.2,266.7" fill="none" stroke="#111" stroke-width="0.9" />
<polyline points="653.5,265.0 653.5,268.4" fill="none" stroke="#111" stroke-width="0.9" />
<rect x="650.5" y="275.9" width="6.0" height="21.399999999999977" rx="3.0" fill="none" stroke="#111" stroke-width="1.1"/>
<polyline points="650.5,286.59999999999997 656.5,286.59999999999997" fill="none" stroke="#222" stroke-width="0.8" />
<polyline points="651.8,280.09999999999997 655.2,280.09999999999997" fill="none" stroke="#111" stroke-width="0.9" />
<polyline points="651.8,293.09999999999997 655.2,293.09999999999997" fill="none" stroke="#111" stroke-width="0.9" />
<polyline points="653.5,291.4 653.5,294.79999999999995" fill="none" stroke="#111" stroke-width="0.9" />
<rect x="650.5" y="308.0" width="6.0" height="21.399999999999977" rx="3.0" fill="none" stroke="#111" stroke-width="1.1"/>
<polyline points="650.5,318.7 656.5,318.7" fill="none" stroke="#222" stroke-width="0.8" />
<polyline points="651.8,312.2 655.2,312.2" fill="none" stroke="#111" stroke-width="0.9" />
<polyline points="651.8,325.2 655.2,325.2" fill="none" stroke="#111" stroke-width="0.9" />
<polyline points="653.5,323.5 653.5,326.9" fill="none" stroke="#111" stroke-width="0.9" />
<rect x="650.5" y="334.4" width="6.0" height="21.399999999999977" rx="3.0" fill="none" stroke="#111" stroke-width="1.1"/>
<polyline points="650.5,345.09999999999997 656.5,345.09999999999997" fill="none" stroke="#222" stroke-width="0.8" />
<polyline points="651.8,338.59999999999997 655.2,338.59999999999997" fill="none" stroke="#111" stroke-width="0.9" />
<polyline points="651.8,351.59999999999997 655.2,351.59999999999997" fill="none" stroke="#111" stroke-width="0.9" />
<polyline points="653.5,349.9 653.5,353.29999999999995" fill="none" stroke="#111" stroke-width="0.9" />
<rect x="670.4" y="205.09999999999997" width="6.0" height="21.80000000000004" rx="3.0" fill="none" stroke="#111" stroke-width="1.1"/>
<polyline points="670.4,216.0 676.4,216.0" fill="none" stroke="#222" stroke-width="0.8" />
<polyline points="671.6999999999999,209.29999999999995 675.1,209.29999999999995" fill="none" stroke="#111" stroke-width="0.9" />
<polyline points="671.6999999999999,222.70000000000002 675.1,222.70000000000002" fill="none" stroke="#111" stroke-width="0.9" />
<polyline points="673.4,221.00000000000003 673.4,224.4" fill="none" stroke="#111" stroke-width="0.9" />
<rect x="670.4" y="231.49999999999997" width="6.0" height="26.50000000000003" rx="3.0" fill="none" stroke="#111" stroke-width="1.1"/>
<polyline points="670.4,244.75 676.4,244.75" fill="none" stroke="#222" stroke-width="0.8" />
<polyline points="671.6999999999999,235.69999999999996 675.1,235.69999999999996" fill="none" stroke="#111" stroke-width="0.9" />
<polyline points="671.6999999999999,253.8 675.1,253.8" fill="none" stroke="#111" stroke-width="0.9" />
<polyline points="673.4,252.10000000000002 673.4,255.5" fill="none" stroke="#111" stroke-width="0.9" />
<rect x="670.4" y="262.59999999999997" width="6.0" height="21.80000000000001" rx="3.0" fill="none" stroke="#111" stroke-width="1.1"/>
<polyline points="670.4,273.5 676.4,273.5" fill="none" stroke="#222" stroke-width="0.8" />
<polyline points="671.6999999999999,266.79999999999995 675.1,266.79999999999995" fill="none" stroke="#111" stroke-width="0.9" />
<polyline points="671.6999999999999,280.2 675.1,280.2" fill="none" stroke="#111" stroke-width="0.9" />
<polyline points="673.4,278.5 673.4,281.9" fill="none" stroke="#111" stroke-width="0.9" />
<rect x="670.4" y="288.99999999999994" width="6.0" height="27.500000000000057" rx="3.0" fill="none" stroke="#111" stroke-width="1.1"/>
<polyline points="670.4,302.75 676.4,302.75" fill="none" stroke="#222" stroke-width="0.8" />
<polyline points="671.6999999999999,293.19999999999993 675.1,293.19999999999993" fill="none" stroke="#111" stroke-width="0.9" />
<polyline points="671.6999999999999,312.3 675.1,312.3" fill="none" stroke="#111" stroke-width="0.9" />
<polyline points="673.4,310.6 673.4,314.0" fill="none" stroke="#111" stroke-width="0.9" />
<rect x="670.4" y="321.09999999999997" width="6.0" height="21.80000000000001" rx="3.0" fill="none" stroke="#111" stroke-width="1.1"/>
<polyline points="670.4,332.0 676.4,332.0" fill="none" stroke="#222" stroke-width="0.8" />
<polyline points="671.6999999999999,325.29999999999995 675.1,325.29999999999995" fill="none" stroke="#111" stroke-width="0.9" />
<polyline points="671.6999999999999,338.7 675.1,338.7" fill="none" stroke="#111" stroke-width="0.9" />
<polyline points="673.4,337.0 673.4,340.4" fill="none" stroke="#111" stroke-width="0.9" />
<rect x="683.5" y="205.09999999999997" width="6.0" height="21.80000000000004" rx="3.0" fill="none" stroke="#111" stroke-width="1.1"/>
<polyline points="683.5,216.0 689.5,216.0" fill="none" stroke="#222" stroke-width="0.8" />
<polyline points="684.8,209.29999999999995 688.2,209.29999999999995" fill="none" stroke="#111" stroke-width="0.9" />
<polyline points="686.5,207.59999999999997 686.5,210.99999999999994" fill="none" stroke="#111" stroke-width="0.9" />
<polyline points="684.8,222.70000000000002 688.2,222.70000000000002" fill="none" stroke="#111" stroke-width="0.9" />
<rect x="683.5" y="231.49999999999997" width="6.0" height="26.50000000000003" rx="3.0" fill="none" stroke="#111" stroke-width="1.1"/>
<polyline points="683.5,244.75 689.5,244.75" fill="none" stroke="#222" stroke-width="0.8" />
<polyline points="684.8,235.69999999999996 688.2,235.69999999999996" fill="none" stroke="#111" stroke-width="0.9" />
<polyline points="686.5,233.99999999999997 686.5,237.39999999999995" fill="none" stroke="#111" stroke-width="0.9" />
<polyline points="684.8,253.8 688.2,253.8" fill="none" stroke="#111" stroke-width="0.9" />
<rect x="683.5" y="262.59999999999997" width="6.0" height="21.80000000000001" rx="3.0" fill="none" stroke="#111" stroke-width="1.1"/>
<polyline points="683.5,273.5 689.5,273.5" fill="none" stroke="#222" stroke-width="0.8" />
<polyline points="684.8,266.79999999999995 688.2,266.79999999999995" fill="none" stroke="#111" stroke-width="0.9" />
<polyline points="686.5,265.09999999999997 686.5,268.49999999999994" fill="none" stroke="#111" stroke-width="0.9" />
<polyline points="684.8,280.2 688.2,280.2" fill="none" stroke="#111" stroke-width="0.9" />
<rect x="683.5" y="288.99999999999994" width="6.0" height="27.500000000000057" rx="3.0" fill="none" stroke="#111" stroke-width="1.1"/>
<polyline points="683.5,302.75 689.5,302.75" fill="none" stroke="#222" stroke-width="0.8" />
<polyline points="684.8,293.19999999999993 688.2,293.19999999999993" fill="none" stroke="#111" stroke-width="0.9" />
<polyline points="686.5,291.49999999999994 686.5,294.8999999999999" fill="none" stroke="#111" stroke-width="0.9" />
<polyline points="684.8,312.3 688.2,312.3" fill="none" stroke="#111" stroke-width="0.9" />
<rect x="683.5" y="321.09999999999997" width="6.0" height="21.80000000000001" rx="3.0" fill="none" stroke="#111" stroke-width="1.1"/>
<polyline points="683.5,332.0 689.5,332.0" fill="none" stroke="#222" stroke-width="0.8" />
<polyline points="684.8,325.29999999999995 688.2,325.29999999999995" fill="none" stroke="#111" stroke-width="0.9" />
<polyline points="686.5,323.59999999999997 686.5,326.99999999999994" fill="none" stroke="#111" stroke-width="0.9" />
<polyline points="684.8,338.7 688.2,338.7" fill="none" stroke="#111" stroke-width="0.9" />
<rect x="703.5" y="191.6" width="6.0" height="21.299999999999983" rx="3.0" fill="none" stroke="#111" stroke-width="1.1"/>
<polyline points="703.5,202.25 709.5,202.25" fill="none" stroke="#222" stroke-width="0.8" />
<polyline points="704.8,195.79999999999998 708.2,195.79999999999998" fill="none" stroke="#111" stroke-width="0.9" />
<polyline points="706.5,194.1 706.5,197.49999999999997" fill="none" stroke="#111" stroke-width="0.9" />
<polyline points="704.8,208.7 708.2,208.7" fill="none" stroke="#111" stroke-width="0.9" />
<rect x="703.5" y="218.0" width="6.0" height="21.299999999999983" rx="3.0" fill="none" stroke="#111" stroke-width="1.1"/>
<polyline points="703.5,228.64999999999998 709.5,228.64999999999998" fill="none" stroke="#222" stroke-width="0.8" />
<polyline points="704.8,222.2 708.2,222.2" fill="none" stroke="#111" stroke-width="0.9" />
<polyline points="706.5,220.5 706.5,223.89999999999998" fill="none" stroke="#111" stroke-width="0.9" />
<polyline points="704.8,235.1 708.2,235.1" fill="none" stroke="#111" stroke-width="0.9" />
<rect x="703.5" y="249.1" width="6.0" height="21.299999999999983" rx="3.0" fill="none" stroke="#111" stroke-width="1.1"/>
<polyline points="703.5,259.75 709.5,259.75" fill="none" stroke="#222" stroke-width="0.8" />
<polyline points="704.8,253.29999999999998 708.2,253.29999999999998" fill="none" stroke="#111" stroke-width="0.9" />
<polyline points="706.5,251.6 706.5,254.99999999999997" fill="none" stroke="#111" stroke-width="0.9" />
<polyline points="704.8,266.2 708.2,266.2" fill="none" stroke="#111" stroke-width="0.9" />
<rect x="703.5" y="275.49999999999994" width="6.0" height="21.30000000000001" rx="3.0" fill="none" stroke="#111" stroke-width="1.1"/>
<polyline points="703.5,286.15 709.5,286.15" fill="none" stroke="#222" stroke-width="0.8" />
<polyline points="704.8,279.69999999999993 708.2,279.69999999999993" fill="none" stroke="#111" stroke-width="0.9" />
<polyline points="706.5,277.99999999999994 706.5,281.3999999999999" fill="none" stroke="#111" stroke-width="0.9" />
<polyline points="704.8,292.59999999999997 708.2,292.59999999999997" fill="none" stroke="#111" stroke-width="0.9" />
<rect x="703.5" y="307.59999999999997" width="6.0" height="21.30000000000001" rx="3.0" fill="none" stroke="#111" stroke-width="1.1"/>
<polyline points="703.5,318.25 709.5,318.25" fill="none" stroke="#222" stroke-width="0.8" />
<polyline points="704.8,311.79999999999995 708.2,311.79999999999995" fill="none" stroke="#111" stroke-width="0.9" />
<polyline points="706.5,310.09999999999997 706.5,313.49999999999994" fill="none" stroke="#111" stroke-width="0.9" />
<polyline points="704.8,324.7 708.2,324.7" fill="none" stroke="#111" stroke-width="0.9" />
<rect x="703.5" y="333.99999999999994" width="6.0" height="21.30000000000001" rx="3.0" fill="none" stroke="#111" stroke-width="1.1"/>
<polyline points="703.5,344.65 709.5,344.65" fill="none" stroke="#222" stroke-width="0.8" />
<polyline points="704.8,338.19999999999993 708.2,338.19999999999993" fill="none" stroke="#111" stroke-width="0.9" />
<polyline points="706.5,336.49999999999994 706.5,339.8999999999999" fill="none" stroke="#111" stroke-width="0.9" />
<polyline points="704.8,351.09999999999997 708.2,351.09999999999997" fill="none" stroke="#111" stroke-width="0.9" />
<rect x="669.3" y="193" width="21.6" height="5.6" rx="2.8" fill="none" stroke="#111" stroke-width="1.1"/>
<polyline points="680.1,193 680.1,198.6" fill="none" stroke="#222" stroke-width="0.8" />
<polyline points="672.4,195.8 675.8,195.8" fill="none" stroke="#111" stroke-width="0.9" />
<polyline points="674.1,194.1 674.1,197.5" fill="none" stroke="#111" stroke-width="0.9" />
<polyline points="684.5,195.8 687.9,195.8" fill="none" stroke="#111" stroke-width="0.9" />
<text x="663.3" y="198.7" font-size="8.8" text-anchor="middle" fill="#2a2a2a" stroke="#2a2a2a" stroke-width="0.1" >12</text>
<text x="696.3" y="198.7" font-size="8.8" text-anchor="middle" fill="#2a2a2a" stroke="#2a2a2a" stroke-width="0.1" >13</text>
<text x="663.3" y="211.89999999999998" font-size="8.8" text-anchor="middle" fill="#2a2a2a" stroke="#2a2a2a" stroke-width="0.1" >11</text>
<text x="696.3" y="211.89999999999998" font-size="8.8" text-anchor="middle" fill="#2a2a2a" stroke="#2a2a2a" stroke-width="0.1" >14</text>
<text x="663.3" y="225.1" font-size="8.8" text-anchor="middle" fill="#2a2a2a" stroke="#2a2a2a" stroke-width="0.1" >10</text>
<text x="696.3" y="225.1" font-size="8.8" text-anchor="middle" fill="#2a2a2a" stroke="#2a2a2a" stroke-width="0.1" >15</text>
<text x="663.3" y="238.29999999999998" font-size="8.8" text-anchor="middle" fill="#2a2a2a" stroke="#2a2a2a" stroke-width="0.1" >9</text>
<text x="696.3" y="238.29999999999998" font-size="8.8" text-anchor="middle" fill="#2a2a2a" stroke="#2a2a2a" stroke-width="0.1" >16</text>
<text x="663.3" y="256.2" font-size="8.8" text-anchor="middle" fill="#2a2a2a" stroke="#2a2a2a" stroke-width="0.1" >8</text>
<text x="696.3" y="256.2" font-size="8.8" text-anchor="middle" fill="#2a2a2a" stroke="#2a2a2a" stroke-width="0.1" >17</text>
<text x="663.3" y="269.4" font-size="8.8" text-anchor="middle" fill="#2a2a2a" stroke="#2a2a2a" stroke-width="0.1" >7</text>
<text x="696.3" y="269.4" font-size="8.8" text-anchor="middle" fill="#2a2a2a" stroke="#2a2a2a" stroke-width="0.1" >18</text>
<text x="663.3" y="282.59999999999997" font-size="8.8" text-anchor="middle" fill="#2a2a2a" stroke="#2a2a2a" stroke-width="0.1" >6</text>
<text x="696.3" y="282.59999999999997" font-size="8.8" text-anchor="middle" fill="#2a2a2a" stroke="#2a2a2a" stroke-width="0.1" >19</text>
<text x="663.3" y="295.79999999999995" font-size="8.8" text-anchor="middle" fill="#2a2a2a" stroke="#2a2a2a" stroke-width="0.1" >5</text>
<text x="696.3" y="295.79999999999995" font-size="8.8" text-anchor="middle" fill="#2a2a2a" stroke="#2a2a2a" stroke-width="0.1" >20</text>
<text x="663.3" y="314.7" font-size="8.8" text-anchor="middle" fill="#2a2a2a" stroke="#2a2a2a" stroke-width="0.1" >4</text>
<text x="696.3" y="314.7" font-size="8.8" text-anchor="middle" fill="#2a2a2a" stroke="#2a2a2a" stroke-width="0.1" >21</text>
<text x="663.3" y="327.9" font-size="8.8" text-anchor="middle" fill="#2a2a2a" stroke="#2a2a2a" stroke-width="0.1" >3</text>
<text x="696.3" y="327.9" font-size="8.8" text-anchor="middle" fill="#2a2a2a" stroke="#2a2a2a" stroke-width="0.1" >22</text>
<text x="663.3" y="341.09999999999997" font-size="8.8" text-anchor="middle" fill="#2a2a2a" stroke="#2a2a2a" stroke-width="0.1" >2</text>
<text x="696.3" y="341.09999999999997" font-size="8.8" text-anchor="middle" fill="#2a2a2a" stroke="#2a2a2a" stroke-width="0.1" >23</text>
<text x="663.3" y="354.29999999999995" font-size="8.8" text-anchor="middle" fill="#2a2a2a" stroke="#2a2a2a" stroke-width="0.1" >1</text>
<text x="696.3" y="354.29999999999995" font-size="8.8" text-anchor="middle" fill="#2a2a2a" stroke="#2a2a2a" stroke-width="0.1" >24</text>
<text x="684.7" y="353.6" font-size="8.8" text-anchor="middle" fill="#2a2a2a" stroke="#2a2a2a" stroke-width="0.1" >+</text>
<polyline points="670.5,350.8 672.8,350.8" fill="none" stroke="#333" stroke-width="0.9" />
<circle cx="594.6" cy="379.3" r="11.3" fill="#c0c0c0" stroke="#111" stroke-width="1.9"/>
<polyline points="579.5,379.6 589,379.6" fill="none" stroke="#111" stroke-width="1.9" />
<polyline points="599.5,379.6 610.3,379.6" fill="none" stroke="#111" stroke-width="1.9" />
<polyline points="589.6,373.2 600,373.2" fill="none" stroke="#111" stroke-width="1.9" />
<polyline points="594.7,373.2 594.7,361.8 584.1,361.8" fill="none" stroke="#111" stroke-width="1.9" />
<text x="650.2" y="398.3" font-size="9.6" text-anchor="middle" fill="#111" stroke="#111" stroke-width="0.1" >MAIN DISCONNECT</text>
<text x="650.2" y="408.8" font-size="9.6" text-anchor="middle" fill="#111" stroke="#111" stroke-width="0.1" >SWITCH</text>
<text x="650.2" y="419.3" font-size="9.6" text-anchor="middle" fill="#111" stroke="#111" stroke-width="0.1" >(PASSENGER</text>
<text x="650.2" y="429.8" font-size="9.6" text-anchor="middle" fill="#111" stroke="#111" stroke-width="0.1" >FRONT WHEEL</text>
<text x="650.2" y="440.3" font-size="9.6" text-anchor="middle" fill="#111" stroke="#111" stroke-width="0.1" >WELL)</text>
<path d="M610.3,379.6 C611.8,379.8 615.2,380.1 619.1,380.9 C623.0,381.7 629.4,383.6 633.8,384.6 C638.2,385.6 641.7,387.0 645.6,387.1 C649.5,387.2 653.2,386.3 657.4,385.3 C661.6,384.3 667.4,382.6 670.6,380.9 C673.8,379.2 675.4,377.2 676.5,375.0 C677.6,372.8 677.5,370.1 677.2,367.6 C677.0,365.2 675.9,362.8 675.0,360.3 C674.1,357.8 672.2,353.7 671.6,352.4" fill="none" stroke="#111" stroke-width="1.2" />
<path d="M685.7,356.0 C686.9,357.2 689.9,360.2 692.7,363.0 C695.5,365.8 699.9,369.7 702.3,372.7 C704.7,375.7 706.0,377.6 707.2,381.0 C708.4,384.4 708.9,387.9 709.5,393.4 C710.1,398.9 710.6,408.3 710.6,414.1 C710.6,419.9 710.3,423.9 709.5,428.0 C708.7,432.1 706.9,436.0 705.8,439.0 C704.7,442.0 704.3,444.2 703.0,446.0 C701.7,447.8 700.0,448.8 698.2,449.6 C696.4,450.4 693.0,450.6 692.0,450.8" fill="none" stroke="#ff2020" stroke-width="1.2" />
<path d="M584.6,450.8 C586.5,456 589.5,457.5 592.6,457.5 C596.8,457.5 598.6,453 600,449.6 C601.8,445.6 604.5,444.2 607.4,444.2 C610.8,444.2 613.4,447 615.4,450.8" fill="none" stroke="#111" stroke-width="1.1" />
<circle cx="584.6" cy="450.8" r="2.9" fill="#000"/>
<circle cx="615.4" cy="450.8" r="2.9" fill="#000"/>
<text x="600.2" y="467.6" font-size="9.6" text-anchor="middle" fill="#111" stroke="#111" stroke-width="0.1" >FUSE</text>
<text x="600.2" y="478.20000000000005" font-size="9.6" text-anchor="middle" fill="#111" stroke="#111" stroke-width="0.1" >30A</text>
<rect x="683" y="454.4" width="35" height="39.2" rx="6" fill="#c0c0c0" stroke="#222" stroke-width="1.2"/>
<polyline points="684.8,489 684.8,497" fill="none" stroke="#555" stroke-width="1.5" />
<polyline points="715.8,489 715.8,497" fill="none" stroke="#555" stroke-width="1.5" />
<path d="M684.5,487 Q700.5,500 716.5,487" fill="none" stroke="#222" stroke-width="1.0" />
<polyline points="684.8,490 692.5,484" fill="none" stroke="#222" stroke-width="0.8" />
<polyline points="715.8,490 708.2,484" fill="none" stroke="#222" stroke-width="0.8" />
<rect x="692.4" y="472.1" width="15.8" height="15.5" rx="1.5" fill="#707070" stroke="#222" stroke-width="0.9"/>
<path d="M692,474.5 q-3,1.2 0,2.4" fill="none" stroke="#222" stroke-width="0.9" />
<path d="M708.6,474.5 q3,1.2 0,2.4" fill="none" stroke="#222" stroke-width="0.9" />
<path d="M692,477.5 q-3,1.2 0,2.4" fill="none" stroke="#222" stroke-width="0.9" />
<path d="M708.6,477.5 q3,1.2 0,2.4" fill="none" stroke="#222" stroke-width="0.9" />
<path d="M692,480.5 q-3,1.2 0,2.4" fill="none" stroke="#222" stroke-width="0.9" />
<path d="M708.6,480.5 q3,1.2 0,2.4" fill="none" stroke="#222" stroke-width="0.9" />
<polyline points="689,482.6 712,482.6" fill="none" stroke="#222" stroke-width="0.8" />
<polyline points="689,484.8 712,484.8" fill="none" stroke="#222" stroke-width="0.8" />
<rect x="690.1" y="450.6" width="4.7" height="13.9" fill="#000"/>
<rect x="706" y="450.6" width="4.5" height="13.9" fill="#000"/>
<rect x="688.2" y="466" width="24.2" height="2.8" rx="1.3" fill="#000"/>
<rect x="698" y="468" width="4.6" height="17.7" fill="#000"/>
<text x="677.3" y="512.1" font-size="9.6" text-anchor="middle" fill="#111" stroke="#111" stroke-width="0.1" >MAIN CONTACTOR</text>
<text x="677.3" y="522.6" font-size="9.6" text-anchor="middle" fill="#111" stroke="#111" stroke-width="0.1" >(DRIVERS SIDE</text>
<text x="677.3" y="533.1" font-size="9.6" text-anchor="middle" fill="#111" stroke="#111" stroke-width="0.1" >REAR)</text>
<rect x="459.1" y="431.5" width="50.6" height="25" fill="#c0c0c0" stroke="#333" stroke-width="1.2"/>
<polyline points="484.5,410.4 484.5,431.5" fill="none" stroke="#222" stroke-width="1.1" />
<polyline points="478.3,410.4 490.7,410.4" fill="none" stroke="#222" stroke-width="1.1" />
<polyline points="480.1,408.5 488.9,408.5" fill="none" stroke="#222" stroke-width="0.9" />
<polyline points="482.3,406.6 486.7,406.6" fill="none" stroke="#222" stroke-width="0.9" />
<text x="0" y="0" font-size="9" fill="#111" stroke="#111" stroke-width="0.1" transform="translate(494.2,428.2) rotate(-90)">E2</text>
<path d="M482.2,431.0 A2.3,2.3 0 0 1 486.8,431.0" fill="none" stroke="#1a1a1a" stroke-width="0.9" />
<path d="M470.9,457.0 A2.3,2.3 0 0 0 475.5,457.0" fill="none" stroke="#1a1a1a" stroke-width="0.9" />
<path d="M494.2,457.0 A2.3,2.3 0 0 0 498.8,457.0" fill="none" stroke="#1a1a1a" stroke-width="0.9" />
<text x="462.9" y="467.6" font-size="9.6" text-anchor="start" fill="#111" stroke="#111" stroke-width="0.1" >N</text>
<text x="487.8" y="467.6" font-size="9.6" text-anchor="start" fill="#111" stroke="#111" stroke-width="0.1" >L</text>
<text x="457.7" y="410.0" font-size="9.6" text-anchor="middle" fill="#111" stroke="#111" stroke-width="0.1" >CHASSIS</text>
<text x="457.7" y="420.3" font-size="9.6" text-anchor="middle" fill="#111" stroke="#111" stroke-width="0.1" >GND</text>
<text x="488.2" y="490.9" font-size="9.6" text-anchor="middle" fill="#111" stroke="#111" stroke-width="0.1" >CHARGE INLET</text>
<text x="488.2" y="501.29999999999995" font-size="9.6" text-anchor="middle" fill="#111" stroke="#111" stroke-width="0.1" >PLUG (FRONT</text>
<text x="488.2" y="511.7" font-size="9.6" text-anchor="middle" fill="#111" stroke="#111" stroke-width="0.1" >BUMPER)</text>
<rect x="40.8" y="523.8" width="145" height="229.5" fill="none" stroke="#111" stroke-width="2.1"/>
<rect x="50.5" y="535.6" width="123.5" height="50.6" fill="none" stroke="#111" stroke-width="2.1"/>
<text x="113.0" y="570.2" font-size="31.3" text-anchor="middle" fill="#111" stroke="#111" stroke-width="0.1" >100.00</text>
<text x="163.6" y="549.3" font-size="9.5" text-anchor="middle" fill="#111" stroke="#111" stroke-width="0.1" >Ω</text>
<circle cx="113.3" cy="658.3" r="46.3" fill="none" stroke="#111" stroke-width="2.1"/>
<polyline points="104.4,614.8 110.5,657.5" fill="none" stroke="#111" stroke-width="5.0" stroke-linecap="round"/>
<polyline points="104.4,614.8 110.5,657.5" fill="none" stroke="#e4e4e4" stroke-width="2.2" stroke-linecap="round"/>
<text x="102.5" y="604.9" font-size="10.0" text-anchor="middle" fill="#222" stroke="#222" stroke-width="0.1" >Ω</text>
<text transform="translate(102.5,609.6) scale(0.93,1)" x="0" y="0" font-size="3.6" text-anchor="middle" fill="#333" stroke="#333" stroke-width="0.06" >OHM</text>
<circle cx="61.9" cy="734.8" r="10.3" fill="none" stroke="#111" stroke-width="2.1"/>
<text x="62.5" y="720.1" font-size="7.4" text-anchor="middle" fill="#222" stroke="#222" stroke-width="0.1" >10A</text>
<circle cx="94.6" cy="734.8" r="10.3" fill="none" stroke="#111" stroke-width="2.1"/>
<text x="94.5" y="720.1" font-size="7.4" text-anchor="middle" fill="#222" stroke="#222" stroke-width="0.1" >400mA</text>
<circle cx="124.1" cy="734.8" r="10.3" fill="none" stroke="#111" stroke-width="2.1"/>
<text x="125.3" y="720.1" font-size="7.4" text-anchor="middle" fill="#222" stroke="#222" stroke-width="0.1" >GND</text>
<circle cx="156.8" cy="734.8" r="10.3" fill="none" stroke="#111" stroke-width="2.1"/>
<text x="157.6" y="718.9" font-size="9.6" text-anchor="middle" fill="#222" stroke="#222" stroke-width="0.1" >Ω</text>
<path d="M504.3,63.4 C502.3,63.4 496.5,63.4 492.1,63.5 C487.7,63.6 482.3,63.7 478.1,63.9 C473.9,64.1 470.0,64.5 466.9,64.8 C463.8,65.1 461.7,65.5 459.4,66.0 C457.1,66.5 455.2,67.2 453.3,68.1 C451.4,69.0 449.6,70.1 448.2,71.4 C446.8,72.7 445.7,74.3 444.9,76.1 C444.1,77.9 443.7,80.1 443.3,82.1 C442.9,84.1 442.8,84.2 442.6,88.0 C442.4,91.8 442.4,98.0 442.2,105.0 C442.0,112.0 441.6,120.8 441.4,130.0 C441.2,139.2 441.2,148.3 441.1,160.0 C441.0,171.7 440.9,187.5 440.6,200.0 C440.4,212.5 440.1,223.3 439.6,235.0 C439.2,246.7 438.4,260.5 437.9,270.0 C437.4,279.5 437.0,284.5 436.5,292.0 C436.0,299.5 435.3,307.0 434.8,315.0 C434.3,323.0 433.9,332.2 433.5,340.0 C433.1,347.8 432.8,354.5 432.4,362.0 C432.0,369.5 431.7,377.0 431.4,385.0 C431.1,393.0 430.8,402.2 430.6,410.0 C430.4,417.8 430.3,425.0 430.3,432.0 C430.3,439.0 430.5,444.0 430.8,452.0 C431.1,460.0 431.5,471.2 432.1,480.0 C432.7,488.8 433.6,496.7 434.4,505.0 C435.2,513.3 436.0,520.8 437.0,530.0 C438.0,539.2 439.2,550.0 440.2,560.0 C441.2,570.0 442.2,581.3 442.9,590.0 C443.6,598.7 444.1,605.0 444.6,612.0 C445.1,619.0 445.5,625.7 445.7,632.0 C445.9,638.3 446.0,643.7 445.8,650.0 C445.6,656.3 445.3,663.3 444.6,670.0 C443.9,676.7 442.9,684.2 441.7,690.0 C440.5,695.8 439.0,699.8 437.2,705.0 C435.4,710.2 433.5,716.8 430.9,721.4 C428.3,726.0 425.6,729.3 421.8,732.7 C418.0,736.1 414.2,738.9 408.2,741.8 C402.1,744.6 393.1,747.8 385.5,749.8 C377.9,751.8 370.3,752.9 362.7,753.6 C355.1,754.4 348.7,754.3 340.0,754.3 C331.3,754.3 324.2,754.4 310.4,753.4 C296.6,752.4 274.8,750.1 257.0,748.1 C239.2,746.1 220.0,743.4 203.5,741.4 C187.0,739.4 165.6,736.9 158.0,736.0" fill="none" stroke="#ff0000" stroke-width="2.2" stroke-linecap="round" stroke-linejoin="round"/>
<path d="M504.1,69.0 C502.1,69.7 495.7,72.0 492.1,73.2 C488.6,74.5 485.6,75.7 482.8,76.5 C480.0,77.3 477.1,77.4 475.3,77.9 C473.5,78.4 472.9,78.6 472.0,79.3 C471.1,80.0 470.4,81.0 469.7,82.1 C469.0,83.2 468.4,84.3 467.8,85.9 C467.2,87.5 466.4,89.2 465.9,91.5 C465.4,93.8 465.0,96.1 464.6,100.0 C464.2,103.9 463.9,109.2 463.6,115.0 C463.3,120.8 463.0,127.5 462.8,135.0 C462.6,142.5 462.6,151.7 462.4,160.0 C462.2,168.3 462.0,177.5 461.7,185.0 C461.4,192.5 460.9,197.5 460.3,205.0 C459.7,212.5 458.7,222.5 457.8,230.0 C456.9,237.5 456.0,243.3 455.1,250.0 C454.2,256.7 453.5,263.3 452.7,270.0 C451.9,276.7 451.2,283.3 450.4,290.0 C449.6,296.7 448.8,303.3 448.1,310.0 C447.4,316.7 446.7,323.0 446.1,330.0 C445.5,337.0 445.0,344.5 444.6,352.0 C444.2,359.5 443.9,368.3 443.9,375.0 C443.9,381.7 444.1,386.2 444.4,392.0 C444.7,397.8 445.2,403.7 445.8,410.0 C446.4,416.3 447.3,423.7 448.2,430.0 C449.1,436.3 450.2,442.7 451.3,448.0 C452.4,453.3 453.2,456.7 454.5,462.0 C455.8,467.3 457.2,472.8 458.9,480.0 C460.6,487.2 462.6,497.7 464.5,505.0 C466.4,512.3 468.8,518.5 470.5,524.0 C472.2,529.5 473.4,533.7 474.8,538.0 C476.2,542.3 477.6,546.3 479.2,550.0 C480.8,553.7 482.5,556.8 484.5,560.0 C486.5,563.2 488.9,565.7 491.0,569.0 C493.1,572.3 495.5,576.5 497.4,580.0 C499.3,583.5 501.2,586.5 502.5,590.0 C503.8,593.5 504.6,596.8 505.2,601.0 C505.8,605.2 506.0,610.2 506.1,615.0 C506.2,619.8 506.2,624.2 506.1,630.0 C506.0,635.8 505.8,643.3 505.6,650.0 C505.4,656.7 505.4,663.3 505.0,670.0 C504.6,676.7 503.8,684.2 503.0,690.0 C502.2,695.8 501.4,699.8 500.0,705.0 C498.6,710.2 497.0,714.5 494.6,721.0 C492.2,727.5 489.3,737.6 485.5,744.1 C481.7,750.6 477.1,755.3 471.8,760.0 C466.5,764.7 460.4,769.1 453.6,772.5 C446.8,775.9 438.5,778.6 430.9,780.5 C423.3,782.4 417.7,783.0 408.2,783.9 C398.7,784.8 385.5,785.5 374.1,785.7 C362.7,785.9 350.6,785.7 340.0,785.2 C329.4,784.7 324.2,784.1 310.4,782.8 C296.6,781.5 274.8,779.3 257.0,777.5 C239.2,775.7 216.9,773.9 203.5,772.1 C190.1,770.3 185.6,769.9 176.7,766.8 C167.8,763.7 158.9,759.1 150.0,753.4 C141.1,747.6 127.9,735.8 123.5,732.3" fill="none" stroke="#000" stroke-width="2.3" stroke-linecap="round" stroke-linejoin="round"/>
</svg></body></html>
